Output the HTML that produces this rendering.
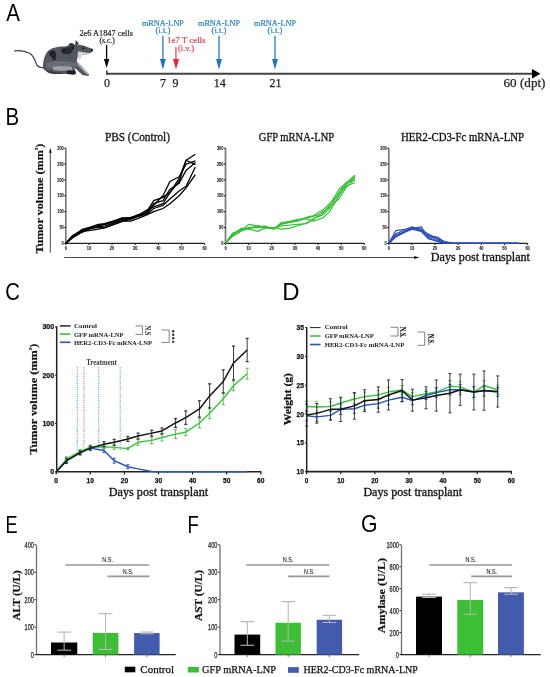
<!DOCTYPE html>
<html><head><meta charset="utf-8"><style>
html,body{margin:0;padding:0;background:#fff;}
svg{display:block;will-change:transform;}
</style></head><body>
<svg width="550" height="677" viewBox="0 0 550 677">
<rect width="550" height="677" fill="#fff"/>
<text x="0" y="0" font-family="'Liberation Sans', sans-serif" font-size="24.4" fill="#000" transform="translate(6.25,20.7) scale(0.84,1)">A</text>
<text x="0" y="0" font-family="'Liberation Sans', sans-serif" font-size="24.4" fill="#000" transform="translate(5.42,125.4) scale(0.84,1)">B</text>
<text x="0" y="0" font-family="'Liberation Sans', sans-serif" font-size="24.4" fill="#000" transform="translate(5.29,299.9) scale(0.83,1)">C</text>
<text x="0" y="0" font-family="'Liberation Sans', sans-serif" font-size="24.4" fill="#000" transform="translate(282.24,300.1) scale(0.98,1)">D</text>
<text x="0" y="0" font-family="'Liberation Sans', sans-serif" font-size="24.4" fill="#000" transform="translate(5.62,532.8) scale(0.74,1)">E</text>
<text x="0" y="0" font-family="'Liberation Sans', sans-serif" font-size="24.4" fill="#000" transform="translate(187.48,532.6) scale(0.76,1)">F</text>
<text x="0" y="0" font-family="'Liberation Sans', sans-serif" font-size="24.4" fill="#000" transform="translate(361.04,532.2) scale(0.87,1)">G</text>
<line x1="106.80" y1="70.60" x2="106.80" y2="74.60" stroke="#444" stroke-width="1.6" />
<line x1="106.00" y1="73.80" x2="533.00" y2="73.80" stroke="#444" stroke-width="1.9" />
<polygon points="532.00,69.00 540.50,73.70 532.00,78.50" fill="#000" />
<text x="107.10" y="87.00" font-family="'Liberation Serif', serif" font-size="12" font-weight="normal" fill="#222" text-anchor="middle" stroke="#222" stroke-width="0.25" >0</text>
<text x="163.00" y="87.00" font-family="'Liberation Serif', serif" font-size="12" font-weight="normal" fill="#222" text-anchor="middle" stroke="#222" stroke-width="0.25" >7</text>
<text x="175.60" y="87.00" font-family="'Liberation Serif', serif" font-size="12" font-weight="normal" fill="#222" text-anchor="middle" stroke="#222" stroke-width="0.25" >9</text>
<text x="219.80" y="87.00" font-family="'Liberation Serif', serif" font-size="12" font-weight="normal" fill="#222" text-anchor="middle" stroke="#222" stroke-width="0.25" >14</text>
<text x="275.40" y="87.00" font-family="'Liberation Serif', serif" font-size="12" font-weight="normal" fill="#222" text-anchor="middle" stroke="#222" stroke-width="0.25" >21</text>
<text x="503.50" y="87.00" font-family="'Liberation Serif', serif" font-size="12.2" font-weight="normal" fill="#222" text-anchor="start" textLength="42" lengthAdjust="spacingAndGlyphs" stroke="#222" stroke-width="0.25" >60 (dpt)</text>
<line x1="106.60" y1="45.00" x2="106.60" y2="60.00" stroke="#000" stroke-width="1.3" />
<polygon points="103.90,59.00 109.30,59.00 106.60,68.00" fill="#000" />
<text x="79.40" y="36.00" font-family="'Liberation Serif', serif" font-size="8.3" font-weight="normal" fill="#222" text-anchor="start" textLength="53.6" lengthAdjust="spacingAndGlyphs" stroke="#222" stroke-width="0.2" >2e6 A1847 cells</text>
<text x="107.20" y="42.60" font-family="'Liberation Serif', serif" font-size="8.3" font-weight="normal" fill="#222" text-anchor="middle" textLength="15.5" lengthAdjust="spacingAndGlyphs" stroke="#222" stroke-width="0.2" >(s.c.)</text>
<line x1="162.90" y1="35.80" x2="162.90" y2="60.00" stroke="#3a8fd4" stroke-width="1.5" />
<polygon points="160.00,59.00 165.80,59.00 162.90,69.40" fill="#1a74c4" />
<text x="162.90" y="25.50" font-family="'Liberation Serif', serif" font-size="8.3" font-weight="normal" fill="#2484cc" text-anchor="middle" textLength="42" lengthAdjust="spacingAndGlyphs" stroke="#2484cc" stroke-width="0.2" >mRNA-LNP</text>
<text x="162.90" y="33.30" font-family="'Liberation Serif', serif" font-size="8.3" font-weight="normal" fill="#2484cc" text-anchor="middle" textLength="15" lengthAdjust="spacingAndGlyphs" stroke="#2484cc" stroke-width="0.2" >(i.t.)</text>
<line x1="219.00" y1="35.80" x2="219.00" y2="60.00" stroke="#3a8fd4" stroke-width="1.5" />
<polygon points="216.10,59.00 221.90,59.00 219.00,69.40" fill="#1a74c4" />
<text x="219.00" y="25.50" font-family="'Liberation Serif', serif" font-size="8.3" font-weight="normal" fill="#2484cc" text-anchor="middle" textLength="42" lengthAdjust="spacingAndGlyphs" stroke="#2484cc" stroke-width="0.2" >mRNA-LNP</text>
<text x="219.00" y="33.30" font-family="'Liberation Serif', serif" font-size="8.3" font-weight="normal" fill="#2484cc" text-anchor="middle" textLength="15" lengthAdjust="spacingAndGlyphs" stroke="#2484cc" stroke-width="0.2" >(i.t.)</text>
<line x1="275.00" y1="35.80" x2="275.00" y2="60.00" stroke="#3a8fd4" stroke-width="1.5" />
<polygon points="272.10,59.00 277.90,59.00 275.00,69.40" fill="#1a74c4" />
<text x="275.00" y="25.50" font-family="'Liberation Serif', serif" font-size="8.3" font-weight="normal" fill="#2484cc" text-anchor="middle" textLength="42" lengthAdjust="spacingAndGlyphs" stroke="#2484cc" stroke-width="0.2" >mRNA-LNP</text>
<text x="275.00" y="33.30" font-family="'Liberation Serif', serif" font-size="8.3" font-weight="normal" fill="#2484cc" text-anchor="middle" textLength="15" lengthAdjust="spacingAndGlyphs" stroke="#2484cc" stroke-width="0.2" >(i.t.)</text>
<line x1="175.90" y1="47.30" x2="175.90" y2="60.00" stroke="#f06068" stroke-width="1.5" />
<polygon points="173.00,59.00 179.00,59.00 176.00,69.40" fill="#f5202e" />
<text x="167.00" y="42.70" font-family="'Liberation Serif', serif" font-size="8.3" font-weight="normal" fill="#f23a4a" text-anchor="start" textLength="38.5" lengthAdjust="spacingAndGlyphs" stroke="#f23a4a" stroke-width="0.2" >1e7 T cells</text>
<text x="186.00" y="50.60" font-family="'Liberation Serif', serif" font-size="8.3" font-weight="normal" fill="#f23a4a" text-anchor="middle" textLength="16" lengthAdjust="spacingAndGlyphs" stroke="#f23a4a" stroke-width="0.2" >(i.v.)</text>
<g id="mouse">
<path d="M14.6,50.9 C19,50.4 25,50.8 29.5,53.3 C33.5,55.6 35,59.8 36.3,63.8 C37.4,66.8 39.5,68 44,67.6" stroke="#3a3f45" stroke-width="1.15" fill="none" stroke-linecap="round"/>
<path d="M43.1,68.2 C42.8,62 44,56 47.5,51.5 C51,48 57,46.6 63,46.6 C66,46.6 68,45.5 69,44.7 L75.3,44.7 C79,44.2 83,45.3 86.7,46.8 C89.5,47.8 91.5,48.5 92.9,49.3 C93,50.5 92.5,51.6 91.7,52.1 C90.5,53.2 89.2,54 88,54.3 C86,54.7 85,54.6 83.6,54.5 C81,55.5 79,56 77.7,57 C77,59 76.5,61 77,62.5 L82,68 C85,71 87.5,73 88.9,74.4 C89.2,75.2 88.5,75.6 87.5,75.5 C85,75.5 83,75 81.8,74.3 C79,72 76.5,69.5 74.5,67.5 L75.6,72.5 C75.8,74 74.5,74.5 73,74.4 C71,74.3 69,74.3 67.5,74 C63,74 58,74.2 53.2,73.8 C50,73.2 47.5,72.3 46.1,71.3 C44.5,70.3 43.5,69.3 43.1,68.2 Z" fill="#50575f"/>
<path d="M46,63 C50,61 58,60.5 66,61.5 C71,62 75,62.5 77,62.5 L80,66 C75,67 68,67 60,67.5 C54,68 49,68 46.5,67 Z" fill="#656c74"/>
<path d="M49.5,52 C51.5,50.5 53.5,50.2 55,51 C56.2,53.5 56.2,57 55.3,60 C54.6,61.2 53.5,61 53,59.6 C52.4,57.5 51.2,56.5 50,56 C49,55 48.9,53.2 49.5,52 Z" fill="#1f2327"/>
<path d="M61,49.5 C63.5,47.6 66.5,47 69.5,47.3 C71.8,47.8 72.8,49.5 72.5,51.5 C71.5,53.3 69,54.2 66.5,54.3 C64,54.4 62,53.3 61.3,51.8 Z" fill="#24282d"/>
<path d="M53,66.8 C58,66.2 64,66.2 70.5,66.6 C72.5,67.5 73,69 72,70.3 C66,70.8 59,70.8 54,70.2 C52.5,69.3 52.3,67.8 53,66.8 Z" fill="#9ba1a7"/>
<path d="M46.2,70.3 C50,71.5 56,72.3 62.4,72.5 C62.5,73.4 62,74 61,74.1 C57,74.2 53,74 50,73.3 C48,72.8 46.8,71.8 46.2,70.3 Z" fill="#3a3f45"/>
<path d="M67.3,70.6 C70,70.2 73,70.4 75.3,71 C76,72 76,73.5 75.2,74.2 C72.5,74.7 69.5,74.6 67.6,74.1 C66.8,73 66.8,71.5 67.3,70.6 Z" fill="#1c1f23"/>
<path d="M77.2,61.2 C78.5,62.5 80.5,64.5 82.5,66.8 C85,69.8 87.5,72.5 89,74.5 L87.2,75 C85,72.8 82.5,70.2 80,67.6 C78.3,65.8 77,63.8 77.2,61.2 Z" fill="#a9aeb3"/>
<path d="M81.8,73.2 C84,73.6 86.8,74 89,74.4 C89.3,75.2 88.6,75.7 87.5,75.6 C85.2,75.6 83,75.2 81.6,74.6 Z" fill="#4a5056"/>
<path d="M78.5,51.2 C81.5,52 85.5,52.6 89.5,53 C90.5,53 91.2,52.8 91.7,52.3 C90.6,53.6 89.3,54.2 88,54.4 C86,54.8 84.5,54.7 83.4,54.6 C81.5,55.4 80.3,57 80.3,60 C79.2,59.5 78.3,58 77.7,57 C77.5,55 77.8,52.8 78.5,51.2 Z" fill="#d2d5d8"/>
<path d="M68.8,44.9 C69.2,43.6 70.3,43 71.5,43.1 C73,43.4 74.3,44.3 74.5,45.6 C74.3,47.5 73.6,49.3 72.5,50.2 C71,50 69.8,48.5 69.2,47 Z" fill="#33383d"/>
<path d="M71.8,46.4 C72.8,46.3 73.8,47 74,48.2 C73.7,49.2 73,49.6 72.2,49.5 C71.6,48.5 71.5,47.3 71.8,46.4 Z" fill="#15181b"/>
<path d="M75.1,44.9 L75.6,40.3 C76.6,40.6 77.8,42 78.9,43.9 C77.6,44.6 76.3,45 75.1,44.9 Z" fill="#3f454b"/>
<ellipse cx="83.1" cy="48.3" rx="1.15" ry="0.95" fill="#101214"/>
<path d="M91.2,48.5 C92.2,48.8 92.9,49.2 93,50.2 C92.8,51.2 92.2,51.7 91.5,51.7 C91,50.8 90.9,49.5 91.2,48.5 Z" fill="#1a1d20"/>
</g>
<line x1="65.80" y1="148.20" x2="65.80" y2="244.10" stroke="#7a7a7a" stroke-width="1.7" />
<line x1="65.10" y1="243.40" x2="204.60" y2="243.40" stroke="#222" stroke-width="1.4" />
<line x1="64.20" y1="243.40" x2="65.80" y2="243.40" stroke="#111" stroke-width="1" />
<text x="63.80" y="245.00" font-family="'Liberation Sans', sans-serif" font-size="4.8" font-weight="bold" fill="#222" text-anchor="end" textLength="2.2" lengthAdjust="spacingAndGlyphs" stroke="#222" stroke-width="0.1" >0</text>
<line x1="64.20" y1="227.53" x2="65.80" y2="227.53" stroke="#111" stroke-width="1" />
<text x="63.80" y="229.13" font-family="'Liberation Sans', sans-serif" font-size="4.8" font-weight="bold" fill="#222" text-anchor="end" textLength="4.4" lengthAdjust="spacingAndGlyphs" stroke="#222" stroke-width="0.1" >50</text>
<line x1="64.20" y1="211.67" x2="65.80" y2="211.67" stroke="#111" stroke-width="1" />
<text x="63.80" y="213.27" font-family="'Liberation Sans', sans-serif" font-size="4.8" font-weight="bold" fill="#222" text-anchor="end" textLength="6.6000000000000005" lengthAdjust="spacingAndGlyphs" stroke="#222" stroke-width="0.1" >100</text>
<line x1="64.20" y1="195.80" x2="65.80" y2="195.80" stroke="#111" stroke-width="1" />
<text x="63.80" y="197.40" font-family="'Liberation Sans', sans-serif" font-size="4.8" font-weight="bold" fill="#222" text-anchor="end" textLength="6.6000000000000005" lengthAdjust="spacingAndGlyphs" stroke="#222" stroke-width="0.1" >150</text>
<line x1="64.20" y1="179.93" x2="65.80" y2="179.93" stroke="#111" stroke-width="1" />
<text x="63.80" y="181.53" font-family="'Liberation Sans', sans-serif" font-size="4.8" font-weight="bold" fill="#222" text-anchor="end" textLength="6.6000000000000005" lengthAdjust="spacingAndGlyphs" stroke="#222" stroke-width="0.1" >200</text>
<line x1="64.20" y1="164.07" x2="65.80" y2="164.07" stroke="#111" stroke-width="1" />
<text x="63.80" y="165.67" font-family="'Liberation Sans', sans-serif" font-size="4.8" font-weight="bold" fill="#222" text-anchor="end" textLength="6.6000000000000005" lengthAdjust="spacingAndGlyphs" stroke="#222" stroke-width="0.1" >250</text>
<line x1="64.20" y1="148.20" x2="65.80" y2="148.20" stroke="#111" stroke-width="1" />
<text x="63.80" y="149.80" font-family="'Liberation Sans', sans-serif" font-size="4.8" font-weight="bold" fill="#222" text-anchor="end" textLength="6.6000000000000005" lengthAdjust="spacingAndGlyphs" stroke="#222" stroke-width="0.1" >300</text>
<line x1="65.80" y1="243.40" x2="65.80" y2="245.00" stroke="#111" stroke-width="1" />
<text x="65.80" y="250.20" font-family="'Liberation Sans', sans-serif" font-size="4.8" font-weight="bold" fill="#222" text-anchor="middle" textLength="2.2" lengthAdjust="spacingAndGlyphs" stroke="#222" stroke-width="0.1" >0</text>
<line x1="88.93" y1="243.40" x2="88.93" y2="245.00" stroke="#111" stroke-width="1" />
<text x="88.93" y="250.20" font-family="'Liberation Sans', sans-serif" font-size="4.8" font-weight="bold" fill="#222" text-anchor="middle" textLength="4.4" lengthAdjust="spacingAndGlyphs" stroke="#222" stroke-width="0.1" >10</text>
<line x1="112.07" y1="243.40" x2="112.07" y2="245.00" stroke="#111" stroke-width="1" />
<text x="112.07" y="250.20" font-family="'Liberation Sans', sans-serif" font-size="4.8" font-weight="bold" fill="#222" text-anchor="middle" textLength="4.4" lengthAdjust="spacingAndGlyphs" stroke="#222" stroke-width="0.1" >20</text>
<line x1="135.20" y1="243.40" x2="135.20" y2="245.00" stroke="#111" stroke-width="1" />
<text x="135.20" y="250.20" font-family="'Liberation Sans', sans-serif" font-size="4.8" font-weight="bold" fill="#222" text-anchor="middle" textLength="4.4" lengthAdjust="spacingAndGlyphs" stroke="#222" stroke-width="0.1" >30</text>
<line x1="158.33" y1="243.40" x2="158.33" y2="245.00" stroke="#111" stroke-width="1" />
<text x="158.33" y="250.20" font-family="'Liberation Sans', sans-serif" font-size="4.8" font-weight="bold" fill="#222" text-anchor="middle" textLength="4.4" lengthAdjust="spacingAndGlyphs" stroke="#222" stroke-width="0.1" >40</text>
<line x1="181.47" y1="243.40" x2="181.47" y2="245.00" stroke="#111" stroke-width="1" />
<text x="181.47" y="250.20" font-family="'Liberation Sans', sans-serif" font-size="4.8" font-weight="bold" fill="#222" text-anchor="middle" textLength="4.4" lengthAdjust="spacingAndGlyphs" stroke="#222" stroke-width="0.1" >50</text>
<line x1="204.60" y1="243.40" x2="204.60" y2="245.00" stroke="#111" stroke-width="1" />
<text x="204.60" y="250.20" font-family="'Liberation Sans', sans-serif" font-size="4.8" font-weight="bold" fill="#222" text-anchor="middle" textLength="4.4" lengthAdjust="spacingAndGlyphs" stroke="#222" stroke-width="0.1" >60</text>
<text x="104.90" y="140.60" font-family="'Liberation Serif', serif" font-size="11.8" font-weight="normal" fill="#111" text-anchor="start" textLength="65.1" lengthAdjust="spacingAndGlyphs" stroke="#111" stroke-width="0.3" >PBS (Control)</text>
<polyline points="65.80,243.40 72.74,235.47 81.99,230.07 88.93,227.53 98.19,224.36 105.13,223.73 114.38,221.19 121.32,218.01 130.57,218.01 137.51,216.11 146.77,211.67 153.71,200.56 162.96,197.39 169.90,192.63 179.15,178.35 186.09,160.26 195.35,154.23" stroke="#000" stroke-width="1.3" fill="none" stroke-linejoin="round" />
<polyline points="65.80,243.40 72.74,237.05 81.99,231.34 88.93,230.71 98.19,229.12 105.13,227.53 114.38,223.73 121.32,220.55 130.57,218.65 137.51,214.84 146.77,212.94 153.71,205.32 162.96,195.80 169.90,181.52 179.15,176.76 186.09,164.07 195.35,160.89" stroke="#000" stroke-width="1.3" fill="none" stroke-linejoin="round" />
<polyline points="65.80,243.40 72.74,237.69 81.99,232.29 88.93,229.12 98.19,226.90 105.13,225.95 114.38,222.77 121.32,221.19 130.57,221.19 137.51,218.65 146.77,214.84 153.71,211.67 162.96,208.49 169.90,203.73 179.15,195.80 186.09,187.87 195.35,174.54" stroke="#000" stroke-width="1.3" fill="none" stroke-linejoin="round" />
<polyline points="65.80,243.40 72.74,235.78 81.99,230.71 88.93,228.17 98.19,225.95 105.13,223.73 114.38,220.55 121.32,218.65 130.57,217.38 137.51,215.47 146.77,210.08 153.71,206.91 162.96,203.73 169.90,192.63 179.15,181.52 186.09,160.26 195.35,164.70" stroke="#000" stroke-width="1.3" fill="none" stroke-linejoin="round" />
<polyline points="65.80,243.40 72.74,236.42 81.99,229.44 88.93,227.53 98.19,227.53 105.13,227.53 114.38,224.36 121.32,221.82 130.57,219.28 137.51,216.74 146.77,214.21 153.71,208.49 162.96,205.32 169.90,198.97 179.15,191.04 186.09,186.28 195.35,166.92" stroke="#000" stroke-width="1.3" fill="none" stroke-linejoin="round" />
<polyline points="65.80,243.40 72.74,237.05 81.99,230.71 88.93,228.80 98.19,225.95 105.13,224.36 114.38,221.82 121.32,219.60 130.57,218.01 137.51,216.43 146.77,213.25 153.71,203.73 162.96,200.56 169.90,189.45 179.15,183.11 186.09,170.41 195.35,162.48" stroke="#000" stroke-width="1.3" fill="none" stroke-linejoin="round" />
<line x1="225.50" y1="148.20" x2="225.50" y2="244.10" stroke="#7a7a7a" stroke-width="1.7" />
<line x1="224.80" y1="243.40" x2="364.30" y2="243.40" stroke="#222" stroke-width="1.4" />
<line x1="223.90" y1="243.40" x2="225.50" y2="243.40" stroke="#111" stroke-width="1" />
<text x="223.50" y="245.00" font-family="'Liberation Sans', sans-serif" font-size="4.8" font-weight="bold" fill="#222" text-anchor="end" textLength="2.2" lengthAdjust="spacingAndGlyphs" stroke="#222" stroke-width="0.1" >0</text>
<line x1="223.90" y1="227.53" x2="225.50" y2="227.53" stroke="#111" stroke-width="1" />
<text x="223.50" y="229.13" font-family="'Liberation Sans', sans-serif" font-size="4.8" font-weight="bold" fill="#222" text-anchor="end" textLength="4.4" lengthAdjust="spacingAndGlyphs" stroke="#222" stroke-width="0.1" >50</text>
<line x1="223.90" y1="211.67" x2="225.50" y2="211.67" stroke="#111" stroke-width="1" />
<text x="223.50" y="213.27" font-family="'Liberation Sans', sans-serif" font-size="4.8" font-weight="bold" fill="#222" text-anchor="end" textLength="6.6000000000000005" lengthAdjust="spacingAndGlyphs" stroke="#222" stroke-width="0.1" >100</text>
<line x1="223.90" y1="195.80" x2="225.50" y2="195.80" stroke="#111" stroke-width="1" />
<text x="223.50" y="197.40" font-family="'Liberation Sans', sans-serif" font-size="4.8" font-weight="bold" fill="#222" text-anchor="end" textLength="6.6000000000000005" lengthAdjust="spacingAndGlyphs" stroke="#222" stroke-width="0.1" >150</text>
<line x1="223.90" y1="179.93" x2="225.50" y2="179.93" stroke="#111" stroke-width="1" />
<text x="223.50" y="181.53" font-family="'Liberation Sans', sans-serif" font-size="4.8" font-weight="bold" fill="#222" text-anchor="end" textLength="6.6000000000000005" lengthAdjust="spacingAndGlyphs" stroke="#222" stroke-width="0.1" >200</text>
<line x1="223.90" y1="164.07" x2="225.50" y2="164.07" stroke="#111" stroke-width="1" />
<text x="223.50" y="165.67" font-family="'Liberation Sans', sans-serif" font-size="4.8" font-weight="bold" fill="#222" text-anchor="end" textLength="6.6000000000000005" lengthAdjust="spacingAndGlyphs" stroke="#222" stroke-width="0.1" >250</text>
<line x1="223.90" y1="148.20" x2="225.50" y2="148.20" stroke="#111" stroke-width="1" />
<text x="223.50" y="149.80" font-family="'Liberation Sans', sans-serif" font-size="4.8" font-weight="bold" fill="#222" text-anchor="end" textLength="6.6000000000000005" lengthAdjust="spacingAndGlyphs" stroke="#222" stroke-width="0.1" >300</text>
<line x1="225.50" y1="243.40" x2="225.50" y2="245.00" stroke="#111" stroke-width="1" />
<text x="225.50" y="250.20" font-family="'Liberation Sans', sans-serif" font-size="4.8" font-weight="bold" fill="#222" text-anchor="middle" textLength="2.2" lengthAdjust="spacingAndGlyphs" stroke="#222" stroke-width="0.1" >0</text>
<line x1="248.63" y1="243.40" x2="248.63" y2="245.00" stroke="#111" stroke-width="1" />
<text x="248.63" y="250.20" font-family="'Liberation Sans', sans-serif" font-size="4.8" font-weight="bold" fill="#222" text-anchor="middle" textLength="4.4" lengthAdjust="spacingAndGlyphs" stroke="#222" stroke-width="0.1" >10</text>
<line x1="271.77" y1="243.40" x2="271.77" y2="245.00" stroke="#111" stroke-width="1" />
<text x="271.77" y="250.20" font-family="'Liberation Sans', sans-serif" font-size="4.8" font-weight="bold" fill="#222" text-anchor="middle" textLength="4.4" lengthAdjust="spacingAndGlyphs" stroke="#222" stroke-width="0.1" >20</text>
<line x1="294.90" y1="243.40" x2="294.90" y2="245.00" stroke="#111" stroke-width="1" />
<text x="294.90" y="250.20" font-family="'Liberation Sans', sans-serif" font-size="4.8" font-weight="bold" fill="#222" text-anchor="middle" textLength="4.4" lengthAdjust="spacingAndGlyphs" stroke="#222" stroke-width="0.1" >30</text>
<line x1="318.03" y1="243.40" x2="318.03" y2="245.00" stroke="#111" stroke-width="1" />
<text x="318.03" y="250.20" font-family="'Liberation Sans', sans-serif" font-size="4.8" font-weight="bold" fill="#222" text-anchor="middle" textLength="4.4" lengthAdjust="spacingAndGlyphs" stroke="#222" stroke-width="0.1" >40</text>
<line x1="341.17" y1="243.40" x2="341.17" y2="245.00" stroke="#111" stroke-width="1" />
<text x="341.17" y="250.20" font-family="'Liberation Sans', sans-serif" font-size="4.8" font-weight="bold" fill="#222" text-anchor="middle" textLength="4.4" lengthAdjust="spacingAndGlyphs" stroke="#222" stroke-width="0.1" >50</text>
<line x1="364.30" y1="243.40" x2="364.30" y2="245.00" stroke="#111" stroke-width="1" />
<text x="364.30" y="250.20" font-family="'Liberation Sans', sans-serif" font-size="4.8" font-weight="bold" fill="#222" text-anchor="middle" textLength="4.4" lengthAdjust="spacingAndGlyphs" stroke="#222" stroke-width="0.1" >60</text>
<text x="258.80" y="140.60" font-family="'Liberation Serif', serif" font-size="11.8" font-weight="normal" fill="#111" text-anchor="start" textLength="75.4" lengthAdjust="spacingAndGlyphs" stroke="#111" stroke-width="0.3" >GFP mRNA-LNP</text>
<polyline points="225.50,243.40 232.44,233.88 241.69,229.12 248.63,228.17 257.89,225.95 264.83,226.90 274.08,229.12 281.02,222.77 290.27,221.19 297.21,219.60 306.47,218.01 313.41,216.43 322.66,213.25 329.60,205.32 338.85,189.45 345.79,183.11 355.05,175.17" stroke="#33c033" stroke-width="1.2" fill="none" stroke-linejoin="round" />
<polyline points="225.50,243.40 232.44,235.47 241.69,230.71 248.63,224.36 257.89,225.95 264.83,227.53 274.08,228.17 281.02,224.36 290.27,221.82 297.21,220.55 306.47,218.65 313.41,221.19 322.66,218.01 329.60,211.67 338.85,195.80 345.79,184.69 355.05,176.76" stroke="#33c033" stroke-width="1.2" fill="none" stroke-linejoin="round" />
<polyline points="225.50,243.40 232.44,234.51 241.69,228.17 248.63,229.12 257.89,231.34 264.83,228.17 274.08,227.53 281.02,229.12 290.27,228.17 297.21,225.95 306.47,222.77 313.41,219.60 322.66,211.67 329.60,206.91 338.85,198.97 345.79,187.87 355.05,178.35" stroke="#33c033" stroke-width="1.2" fill="none" stroke-linejoin="round" />
<polyline points="225.50,243.40 232.44,233.25 241.69,230.07 248.63,227.53 257.89,227.53 264.83,225.95 274.08,228.80 281.02,223.73 290.27,222.46 297.21,221.19 306.47,217.38 313.41,215.47 322.66,210.08 329.60,203.73 338.85,194.21 345.79,186.28 355.05,182.47" stroke="#33c033" stroke-width="1.2" fill="none" stroke-linejoin="round" />
<polyline points="225.50,243.40 232.44,236.42 241.69,230.71 248.63,228.49 257.89,226.90 264.83,227.53 274.08,228.49 281.02,225.95 290.27,224.99 297.21,224.36 306.47,223.73 313.41,218.65 322.66,214.84 329.60,208.49 338.85,192.63 345.79,183.11 355.05,179.93" stroke="#33c033" stroke-width="1.2" fill="none" stroke-linejoin="round" />
<line x1="388.80" y1="148.20" x2="388.80" y2="244.10" stroke="#7a7a7a" stroke-width="1.7" />
<line x1="388.10" y1="243.40" x2="527.60" y2="243.40" stroke="#222" stroke-width="1.4" />
<line x1="387.20" y1="243.40" x2="388.80" y2="243.40" stroke="#111" stroke-width="1" />
<text x="386.80" y="245.00" font-family="'Liberation Sans', sans-serif" font-size="4.8" font-weight="bold" fill="#222" text-anchor="end" textLength="2.2" lengthAdjust="spacingAndGlyphs" stroke="#222" stroke-width="0.1" >0</text>
<line x1="387.20" y1="227.53" x2="388.80" y2="227.53" stroke="#111" stroke-width="1" />
<text x="386.80" y="229.13" font-family="'Liberation Sans', sans-serif" font-size="4.8" font-weight="bold" fill="#222" text-anchor="end" textLength="4.4" lengthAdjust="spacingAndGlyphs" stroke="#222" stroke-width="0.1" >50</text>
<line x1="387.20" y1="211.67" x2="388.80" y2="211.67" stroke="#111" stroke-width="1" />
<text x="386.80" y="213.27" font-family="'Liberation Sans', sans-serif" font-size="4.8" font-weight="bold" fill="#222" text-anchor="end" textLength="6.6000000000000005" lengthAdjust="spacingAndGlyphs" stroke="#222" stroke-width="0.1" >100</text>
<line x1="387.20" y1="195.80" x2="388.80" y2="195.80" stroke="#111" stroke-width="1" />
<text x="386.80" y="197.40" font-family="'Liberation Sans', sans-serif" font-size="4.8" font-weight="bold" fill="#222" text-anchor="end" textLength="6.6000000000000005" lengthAdjust="spacingAndGlyphs" stroke="#222" stroke-width="0.1" >150</text>
<line x1="387.20" y1="179.93" x2="388.80" y2="179.93" stroke="#111" stroke-width="1" />
<text x="386.80" y="181.53" font-family="'Liberation Sans', sans-serif" font-size="4.8" font-weight="bold" fill="#222" text-anchor="end" textLength="6.6000000000000005" lengthAdjust="spacingAndGlyphs" stroke="#222" stroke-width="0.1" >200</text>
<line x1="387.20" y1="164.07" x2="388.80" y2="164.07" stroke="#111" stroke-width="1" />
<text x="386.80" y="165.67" font-family="'Liberation Sans', sans-serif" font-size="4.8" font-weight="bold" fill="#222" text-anchor="end" textLength="6.6000000000000005" lengthAdjust="spacingAndGlyphs" stroke="#222" stroke-width="0.1" >250</text>
<line x1="387.20" y1="148.20" x2="388.80" y2="148.20" stroke="#111" stroke-width="1" />
<text x="386.80" y="149.80" font-family="'Liberation Sans', sans-serif" font-size="4.8" font-weight="bold" fill="#222" text-anchor="end" textLength="6.6000000000000005" lengthAdjust="spacingAndGlyphs" stroke="#222" stroke-width="0.1" >300</text>
<line x1="388.80" y1="243.40" x2="388.80" y2="245.00" stroke="#111" stroke-width="1" />
<text x="388.80" y="250.20" font-family="'Liberation Sans', sans-serif" font-size="4.8" font-weight="bold" fill="#222" text-anchor="middle" textLength="2.2" lengthAdjust="spacingAndGlyphs" stroke="#222" stroke-width="0.1" >0</text>
<line x1="411.93" y1="243.40" x2="411.93" y2="245.00" stroke="#111" stroke-width="1" />
<text x="411.93" y="250.20" font-family="'Liberation Sans', sans-serif" font-size="4.8" font-weight="bold" fill="#222" text-anchor="middle" textLength="4.4" lengthAdjust="spacingAndGlyphs" stroke="#222" stroke-width="0.1" >10</text>
<line x1="435.07" y1="243.40" x2="435.07" y2="245.00" stroke="#111" stroke-width="1" />
<text x="435.07" y="250.20" font-family="'Liberation Sans', sans-serif" font-size="4.8" font-weight="bold" fill="#222" text-anchor="middle" textLength="4.4" lengthAdjust="spacingAndGlyphs" stroke="#222" stroke-width="0.1" >20</text>
<line x1="458.20" y1="243.40" x2="458.20" y2="245.00" stroke="#111" stroke-width="1" />
<text x="458.20" y="250.20" font-family="'Liberation Sans', sans-serif" font-size="4.8" font-weight="bold" fill="#222" text-anchor="middle" textLength="4.4" lengthAdjust="spacingAndGlyphs" stroke="#222" stroke-width="0.1" >30</text>
<line x1="481.33" y1="243.40" x2="481.33" y2="245.00" stroke="#111" stroke-width="1" />
<text x="481.33" y="250.20" font-family="'Liberation Sans', sans-serif" font-size="4.8" font-weight="bold" fill="#222" text-anchor="middle" textLength="4.4" lengthAdjust="spacingAndGlyphs" stroke="#222" stroke-width="0.1" >40</text>
<line x1="504.47" y1="243.40" x2="504.47" y2="245.00" stroke="#111" stroke-width="1" />
<text x="504.47" y="250.20" font-family="'Liberation Sans', sans-serif" font-size="4.8" font-weight="bold" fill="#222" text-anchor="middle" textLength="4.4" lengthAdjust="spacingAndGlyphs" stroke="#222" stroke-width="0.1" >50</text>
<line x1="527.60" y1="243.40" x2="527.60" y2="245.00" stroke="#111" stroke-width="1" />
<text x="527.60" y="250.20" font-family="'Liberation Sans', sans-serif" font-size="4.8" font-weight="bold" fill="#222" text-anchor="middle" textLength="4.4" lengthAdjust="spacingAndGlyphs" stroke="#222" stroke-width="0.1" >60</text>
<text x="401.00" y="140.60" font-family="'Liberation Serif', serif" font-size="11.8" font-weight="normal" fill="#111" text-anchor="start" textLength="123" lengthAdjust="spacingAndGlyphs" stroke="#111" stroke-width="0.3" >HER2-CD3-Fc mRNA-LNP</text>
<polyline points="388.80,243.40 395.74,230.71 404.99,229.44 411.93,227.53 421.19,230.71 428.13,235.47 437.38,237.05 444.32,241.81 453.57,243.40 460.51,243.40 469.77,243.40 476.71,243.40 485.96,243.40 492.90,243.40 502.15,243.40 509.09,243.40 518.35,243.40" stroke="#2c4db8" stroke-width="1.2" fill="none" stroke-linejoin="round" />
<polyline points="388.80,243.40 395.74,235.47 404.99,231.34 411.93,228.17 421.19,229.12 428.13,233.88 437.38,239.59 444.32,242.77 453.57,243.40 460.51,243.40 469.77,243.40 476.71,243.40 485.96,243.40 492.90,243.40 502.15,243.40 509.09,243.40 518.35,243.40" stroke="#2c4db8" stroke-width="1.2" fill="none" stroke-linejoin="round" />
<polyline points="388.80,243.40 395.74,236.42 404.99,232.29 411.93,228.80 421.19,226.90 428.13,237.69 437.38,240.86 444.32,243.08 453.57,243.40 460.51,243.40 469.77,243.40 476.71,243.40 485.96,243.40 492.90,243.40 502.15,243.40 509.09,243.40 518.35,243.40" stroke="#2c4db8" stroke-width="1.2" fill="none" stroke-linejoin="round" />
<polyline points="388.80,243.40 395.74,233.88 404.99,230.07 411.93,226.90 421.19,230.07 428.13,236.42 437.38,238.64 444.32,241.50 453.57,243.40 460.51,243.40 469.77,243.40 476.71,243.40 485.96,243.40 492.90,243.40 502.15,243.40 509.09,243.40 518.35,243.40" stroke="#2c4db8" stroke-width="1.2" fill="none" stroke-linejoin="round" />
<polyline points="388.80,243.40 395.74,237.05 404.99,231.98 411.93,229.12 421.19,231.34 428.13,238.64 437.38,241.50 444.32,243.40 453.57,243.40 460.51,243.40 469.77,243.40 476.71,243.40 485.96,243.40 492.90,243.40 502.15,243.40 509.09,243.40 518.35,243.40" stroke="#2c4db8" stroke-width="1.2" fill="none" stroke-linejoin="round" />
<text x="0.00" y="0.00" font-family="'Liberation Serif', serif" font-size="11.3" font-weight="bold" fill="#111" text-anchor="start" textLength="110" lengthAdjust="spacingAndGlyphs" stroke="#111" stroke-width="0.2" transform="translate(42.6,253.6) rotate(-90)">Tumor volume (mm<tspan font-size="4.6" dy="-4.9">3</tspan><tspan dy="4.9">)</tspan></text>
<line x1="50.30" y1="252.70" x2="50.30" y2="151.00" stroke="#333" stroke-width="0.9" />
<polygon points="48.90,152.80 51.70,152.80 50.30,147.90" fill="#111" />
<line x1="64.20" y1="257.50" x2="415.00" y2="257.50" stroke="#333" stroke-width="0.9" />
<polygon points="414.20,255.90 414.20,259.10 419.30,257.50" fill="#111" />
<text x="430.80" y="261.40" font-family="'Liberation Serif', serif" font-size="11.8" font-weight="normal" fill="#111" text-anchor="start" textLength="99.2" lengthAdjust="spacingAndGlyphs" stroke="#111" stroke-width="0.3" >Days post transplant</text>
<line x1="56.70" y1="326.30" x2="56.70" y2="472.60" stroke="#222" stroke-width="1.5" />
<line x1="55.90" y1="471.80" x2="261.40" y2="471.80" stroke="#222" stroke-width="1.6" />
<line x1="77.30" y1="367.30" x2="77.30" y2="451.00" stroke="#4aa0e0" stroke-width="1.1" stroke-dasharray="1 1.2"/>
<line x1="83.90" y1="367.30" x2="83.90" y2="451.00" stroke="#f06060" stroke-width="1.1" stroke-dasharray="1 1.2"/>
<line x1="98.70" y1="367.30" x2="98.70" y2="451.00" stroke="#4aa0e0" stroke-width="1.1" stroke-dasharray="1 1.2"/>
<line x1="120.20" y1="367.30" x2="120.20" y2="451.00" stroke="#4aa0e0" stroke-width="1.1" stroke-dasharray="1 1.2"/>
<text x="86.30" y="365.20" font-family="'Liberation Serif', serif" font-size="7.6" font-weight="bold" fill="#3a3a3a" text-anchor="start" textLength="30.5" lengthAdjust="spacingAndGlyphs" >Treatment</text>
<line x1="66.43" y1="458.27" x2="66.43" y2="462.13" stroke="#4a6cc8" stroke-width="1.0" />
<line x1="64.93" y1="458.27" x2="67.93" y2="458.27" stroke="#4a6cc8" stroke-width="1.3" />
<line x1="64.93" y1="462.13" x2="67.93" y2="462.13" stroke="#4a6cc8" stroke-width="1.3" />
<line x1="80.07" y1="450.53" x2="80.07" y2="454.40" stroke="#4a6cc8" stroke-width="1.0" />
<line x1="78.57" y1="450.53" x2="81.57" y2="450.53" stroke="#4a6cc8" stroke-width="1.3" />
<line x1="78.57" y1="454.40" x2="81.57" y2="454.40" stroke="#4a6cc8" stroke-width="1.3" />
<line x1="90.30" y1="446.19" x2="90.30" y2="450.05" stroke="#4a6cc8" stroke-width="1.0" />
<line x1="88.80" y1="446.19" x2="91.80" y2="446.19" stroke="#4a6cc8" stroke-width="1.3" />
<line x1="88.80" y1="450.05" x2="91.80" y2="450.05" stroke="#4a6cc8" stroke-width="1.3" />
<line x1="103.94" y1="448.60" x2="103.94" y2="452.47" stroke="#4a6cc8" stroke-width="1.0" />
<line x1="102.44" y1="448.60" x2="105.44" y2="448.60" stroke="#4a6cc8" stroke-width="1.3" />
<line x1="102.44" y1="452.47" x2="105.44" y2="452.47" stroke="#4a6cc8" stroke-width="1.3" />
<line x1="114.17" y1="458.27" x2="114.17" y2="463.10" stroke="#4a6cc8" stroke-width="1.0" />
<line x1="112.67" y1="458.27" x2="115.67" y2="458.27" stroke="#4a6cc8" stroke-width="1.3" />
<line x1="112.67" y1="463.10" x2="115.67" y2="463.10" stroke="#4a6cc8" stroke-width="1.3" />
<line x1="127.81" y1="464.79" x2="127.81" y2="468.66" stroke="#4a6cc8" stroke-width="1.0" />
<line x1="126.31" y1="464.79" x2="129.31" y2="464.79" stroke="#4a6cc8" stroke-width="1.3" />
<line x1="126.31" y1="468.66" x2="129.31" y2="468.66" stroke="#4a6cc8" stroke-width="1.3" />
<polyline points="56.20,471.80 66.43,460.20 80.07,452.47 90.30,448.12 103.94,450.53 114.17,460.68 127.81,466.73 138.04,468.90 151.68,471.56 161.91,471.80 175.55,471.80 185.78,471.80 199.42,471.80 209.65,471.80 223.29,471.80 233.52,471.80 247.16,471.80" stroke="#2d53b8" stroke-width="1.45" fill="none" stroke-linejoin="round" />
<line x1="66.43" y1="456.82" x2="66.43" y2="461.65" stroke="#62c862" stroke-width="1.0" />
<line x1="64.93" y1="456.82" x2="67.93" y2="456.82" stroke="#62c862" stroke-width="1.3" />
<line x1="64.93" y1="461.65" x2="67.93" y2="461.65" stroke="#62c862" stroke-width="1.3" />
<line x1="80.07" y1="449.57" x2="80.07" y2="453.43" stroke="#62c862" stroke-width="1.0" />
<line x1="78.57" y1="449.57" x2="81.57" y2="449.57" stroke="#62c862" stroke-width="1.3" />
<line x1="78.57" y1="453.43" x2="81.57" y2="453.43" stroke="#62c862" stroke-width="1.3" />
<line x1="90.30" y1="445.22" x2="90.30" y2="449.08" stroke="#62c862" stroke-width="1.0" />
<line x1="88.80" y1="445.22" x2="91.80" y2="445.22" stroke="#62c862" stroke-width="1.3" />
<line x1="88.80" y1="449.08" x2="91.80" y2="449.08" stroke="#62c862" stroke-width="1.3" />
<line x1="103.94" y1="444.74" x2="103.94" y2="448.60" stroke="#62c862" stroke-width="1.0" />
<line x1="102.44" y1="444.74" x2="105.44" y2="444.74" stroke="#62c862" stroke-width="1.3" />
<line x1="102.44" y1="448.60" x2="105.44" y2="448.60" stroke="#62c862" stroke-width="1.3" />
<line x1="114.17" y1="445.46" x2="114.17" y2="449.33" stroke="#62c862" stroke-width="1.0" />
<line x1="112.67" y1="445.46" x2="115.67" y2="445.46" stroke="#62c862" stroke-width="1.3" />
<line x1="112.67" y1="449.33" x2="115.67" y2="449.33" stroke="#62c862" stroke-width="1.3" />
<line x1="127.81" y1="447.63" x2="127.81" y2="449.57" stroke="#62c862" stroke-width="1.0" />
<line x1="126.31" y1="447.63" x2="129.31" y2="447.63" stroke="#62c862" stroke-width="1.3" />
<line x1="126.31" y1="449.57" x2="129.31" y2="449.57" stroke="#62c862" stroke-width="1.3" />
<line x1="138.04" y1="439.42" x2="138.04" y2="445.22" stroke="#62c862" stroke-width="1.0" />
<line x1="136.54" y1="439.42" x2="139.54" y2="439.42" stroke="#62c862" stroke-width="1.3" />
<line x1="136.54" y1="445.22" x2="139.54" y2="445.22" stroke="#62c862" stroke-width="1.3" />
<line x1="151.68" y1="437.00" x2="151.68" y2="443.77" stroke="#62c862" stroke-width="1.0" />
<line x1="150.18" y1="437.00" x2="153.18" y2="437.00" stroke="#62c862" stroke-width="1.3" />
<line x1="150.18" y1="443.77" x2="153.18" y2="443.77" stroke="#62c862" stroke-width="1.3" />
<line x1="161.91" y1="434.10" x2="161.91" y2="440.87" stroke="#62c862" stroke-width="1.0" />
<line x1="160.41" y1="434.10" x2="163.41" y2="434.10" stroke="#62c862" stroke-width="1.3" />
<line x1="160.41" y1="440.87" x2="163.41" y2="440.87" stroke="#62c862" stroke-width="1.3" />
<line x1="175.55" y1="429.75" x2="175.55" y2="438.45" stroke="#62c862" stroke-width="1.0" />
<line x1="174.05" y1="429.75" x2="177.05" y2="429.75" stroke="#62c862" stroke-width="1.3" />
<line x1="174.05" y1="438.45" x2="177.05" y2="438.45" stroke="#62c862" stroke-width="1.3" />
<line x1="185.78" y1="428.79" x2="185.78" y2="435.55" stroke="#62c862" stroke-width="1.0" />
<line x1="184.28" y1="428.79" x2="187.28" y2="428.79" stroke="#62c862" stroke-width="1.3" />
<line x1="184.28" y1="435.55" x2="187.28" y2="435.55" stroke="#62c862" stroke-width="1.3" />
<line x1="199.42" y1="418.15" x2="199.42" y2="427.82" stroke="#62c862" stroke-width="1.0" />
<line x1="197.92" y1="418.15" x2="200.92" y2="418.15" stroke="#62c862" stroke-width="1.3" />
<line x1="197.92" y1="427.82" x2="200.92" y2="427.82" stroke="#62c862" stroke-width="1.3" />
<line x1="209.65" y1="408.00" x2="209.65" y2="418.64" stroke="#62c862" stroke-width="1.0" />
<line x1="208.15" y1="408.00" x2="211.15" y2="408.00" stroke="#62c862" stroke-width="1.3" />
<line x1="208.15" y1="418.64" x2="211.15" y2="418.64" stroke="#62c862" stroke-width="1.3" />
<line x1="223.29" y1="393.02" x2="223.29" y2="404.62" stroke="#62c862" stroke-width="1.0" />
<line x1="221.79" y1="393.02" x2="224.79" y2="393.02" stroke="#62c862" stroke-width="1.3" />
<line x1="221.79" y1="404.62" x2="224.79" y2="404.62" stroke="#62c862" stroke-width="1.3" />
<line x1="233.52" y1="380.94" x2="233.52" y2="390.61" stroke="#62c862" stroke-width="1.0" />
<line x1="232.02" y1="380.94" x2="235.02" y2="380.94" stroke="#62c862" stroke-width="1.3" />
<line x1="232.02" y1="390.61" x2="235.02" y2="390.61" stroke="#62c862" stroke-width="1.3" />
<line x1="247.16" y1="368.37" x2="247.16" y2="379.01" stroke="#62c862" stroke-width="1.0" />
<line x1="245.66" y1="368.37" x2="248.66" y2="368.37" stroke="#62c862" stroke-width="1.3" />
<line x1="245.66" y1="379.01" x2="248.66" y2="379.01" stroke="#62c862" stroke-width="1.3" />
<polyline points="56.20,471.80 66.43,459.23 80.07,451.50 90.30,447.15 103.94,446.67 114.17,447.39 127.81,448.60 138.04,442.32 151.68,440.39 161.91,437.49 175.55,434.10 185.78,432.17 199.42,422.99 209.65,413.32 223.29,398.82 233.52,385.77 247.16,373.69" stroke="#3cc43c" stroke-width="1.45" fill="none" stroke-linejoin="round" />
<line x1="66.43" y1="458.51" x2="66.43" y2="463.34" stroke="#3a3a3a" stroke-width="1.0" />
<line x1="64.93" y1="458.51" x2="67.93" y2="458.51" stroke="#3a3a3a" stroke-width="1.3" />
<line x1="64.93" y1="463.34" x2="67.93" y2="463.34" stroke="#3a3a3a" stroke-width="1.3" />
<line x1="80.07" y1="451.02" x2="80.07" y2="454.88" stroke="#3a3a3a" stroke-width="1.0" />
<line x1="78.57" y1="451.02" x2="81.57" y2="451.02" stroke="#3a3a3a" stroke-width="1.3" />
<line x1="78.57" y1="454.88" x2="81.57" y2="454.88" stroke="#3a3a3a" stroke-width="1.3" />
<line x1="90.30" y1="446.19" x2="90.30" y2="450.05" stroke="#3a3a3a" stroke-width="1.0" />
<line x1="88.80" y1="446.19" x2="91.80" y2="446.19" stroke="#3a3a3a" stroke-width="1.3" />
<line x1="88.80" y1="450.05" x2="91.80" y2="450.05" stroke="#3a3a3a" stroke-width="1.3" />
<line x1="103.94" y1="441.84" x2="103.94" y2="446.67" stroke="#3a3a3a" stroke-width="1.0" />
<line x1="102.44" y1="441.84" x2="105.44" y2="441.84" stroke="#3a3a3a" stroke-width="1.3" />
<line x1="102.44" y1="446.67" x2="105.44" y2="446.67" stroke="#3a3a3a" stroke-width="1.3" />
<line x1="114.17" y1="439.42" x2="114.17" y2="445.22" stroke="#3a3a3a" stroke-width="1.0" />
<line x1="112.67" y1="439.42" x2="115.67" y2="439.42" stroke="#3a3a3a" stroke-width="1.3" />
<line x1="112.67" y1="445.22" x2="115.67" y2="445.22" stroke="#3a3a3a" stroke-width="1.3" />
<line x1="127.81" y1="436.52" x2="127.81" y2="441.35" stroke="#3a3a3a" stroke-width="1.0" />
<line x1="126.31" y1="436.52" x2="129.31" y2="436.52" stroke="#3a3a3a" stroke-width="1.3" />
<line x1="126.31" y1="441.35" x2="129.31" y2="441.35" stroke="#3a3a3a" stroke-width="1.3" />
<line x1="138.04" y1="433.14" x2="138.04" y2="438.94" stroke="#3a3a3a" stroke-width="1.0" />
<line x1="136.54" y1="433.14" x2="139.54" y2="433.14" stroke="#3a3a3a" stroke-width="1.3" />
<line x1="136.54" y1="438.94" x2="139.54" y2="438.94" stroke="#3a3a3a" stroke-width="1.3" />
<line x1="151.68" y1="430.24" x2="151.68" y2="436.04" stroke="#3a3a3a" stroke-width="1.0" />
<line x1="150.18" y1="430.24" x2="153.18" y2="430.24" stroke="#3a3a3a" stroke-width="1.3" />
<line x1="150.18" y1="436.04" x2="153.18" y2="436.04" stroke="#3a3a3a" stroke-width="1.3" />
<line x1="161.91" y1="428.06" x2="161.91" y2="433.86" stroke="#3a3a3a" stroke-width="1.0" />
<line x1="160.41" y1="428.06" x2="163.41" y2="428.06" stroke="#3a3a3a" stroke-width="1.3" />
<line x1="160.41" y1="433.86" x2="163.41" y2="433.86" stroke="#3a3a3a" stroke-width="1.3" />
<line x1="175.55" y1="418.64" x2="175.55" y2="427.34" stroke="#3a3a3a" stroke-width="1.0" />
<line x1="174.05" y1="418.64" x2="177.05" y2="418.64" stroke="#3a3a3a" stroke-width="1.3" />
<line x1="174.05" y1="427.34" x2="177.05" y2="427.34" stroke="#3a3a3a" stroke-width="1.3" />
<line x1="185.78" y1="410.90" x2="185.78" y2="424.44" stroke="#3a3a3a" stroke-width="1.0" />
<line x1="184.28" y1="410.90" x2="187.28" y2="410.90" stroke="#3a3a3a" stroke-width="1.3" />
<line x1="184.28" y1="424.44" x2="187.28" y2="424.44" stroke="#3a3a3a" stroke-width="1.3" />
<line x1="199.42" y1="400.75" x2="199.42" y2="417.19" stroke="#3a3a3a" stroke-width="1.0" />
<line x1="197.92" y1="400.75" x2="200.92" y2="400.75" stroke="#3a3a3a" stroke-width="1.3" />
<line x1="197.92" y1="417.19" x2="200.92" y2="417.19" stroke="#3a3a3a" stroke-width="1.3" />
<line x1="209.65" y1="383.84" x2="209.65" y2="408.00" stroke="#3a3a3a" stroke-width="1.0" />
<line x1="208.15" y1="383.84" x2="211.15" y2="383.84" stroke="#3a3a3a" stroke-width="1.3" />
<line x1="208.15" y1="408.00" x2="211.15" y2="408.00" stroke="#3a3a3a" stroke-width="1.3" />
<line x1="223.29" y1="369.82" x2="223.29" y2="393.02" stroke="#3a3a3a" stroke-width="1.0" />
<line x1="221.79" y1="369.82" x2="224.79" y2="369.82" stroke="#3a3a3a" stroke-width="1.3" />
<line x1="221.79" y1="393.02" x2="224.79" y2="393.02" stroke="#3a3a3a" stroke-width="1.3" />
<line x1="233.52" y1="346.14" x2="233.52" y2="379.97" stroke="#3a3a3a" stroke-width="1.0" />
<line x1="232.02" y1="346.14" x2="235.02" y2="346.14" stroke="#3a3a3a" stroke-width="1.3" />
<line x1="232.02" y1="379.97" x2="235.02" y2="379.97" stroke="#3a3a3a" stroke-width="1.3" />
<line x1="247.16" y1="338.41" x2="247.16" y2="361.61" stroke="#3a3a3a" stroke-width="1.0" />
<line x1="245.66" y1="338.41" x2="248.66" y2="338.41" stroke="#3a3a3a" stroke-width="1.3" />
<line x1="245.66" y1="361.61" x2="248.66" y2="361.61" stroke="#3a3a3a" stroke-width="1.3" />
<polyline points="56.20,471.80 66.43,460.93 80.07,452.95 90.30,448.12 103.94,444.25 114.17,442.32 127.81,438.94 138.04,436.04 151.68,433.14 161.91,430.96 175.55,422.99 185.78,417.67 199.42,408.97 209.65,395.92 223.29,381.42 233.52,363.06 247.16,350.01" stroke="#111" stroke-width="1.45" fill="none" stroke-linejoin="round" />
<line x1="55.10" y1="471.80" x2="56.70" y2="471.80" stroke="#222" stroke-width="1.2" />
<text x="54.10" y="474.40" font-family="'Liberation Sans', sans-serif" font-size="7.1" font-weight="bold" fill="#111" text-anchor="end" textLength="3.9" lengthAdjust="spacingAndGlyphs" stroke="#111" stroke-width="0.25" >0</text>
<line x1="55.10" y1="423.47" x2="56.70" y2="423.47" stroke="#222" stroke-width="1.2" />
<text x="54.10" y="426.07" font-family="'Liberation Sans', sans-serif" font-size="7.1" font-weight="bold" fill="#111" text-anchor="end" textLength="11.7" lengthAdjust="spacingAndGlyphs" stroke="#111" stroke-width="0.25" >100</text>
<line x1="55.10" y1="375.14" x2="56.70" y2="375.14" stroke="#222" stroke-width="1.2" />
<text x="54.10" y="377.74" font-family="'Liberation Sans', sans-serif" font-size="7.1" font-weight="bold" fill="#111" text-anchor="end" textLength="11.7" lengthAdjust="spacingAndGlyphs" stroke="#111" stroke-width="0.25" >200</text>
<line x1="55.10" y1="326.81" x2="56.70" y2="326.81" stroke="#222" stroke-width="1.2" />
<text x="54.10" y="329.41" font-family="'Liberation Sans', sans-serif" font-size="7.1" font-weight="bold" fill="#111" text-anchor="end" textLength="11.7" lengthAdjust="spacingAndGlyphs" stroke="#111" stroke-width="0.25" >300</text>
<line x1="56.20" y1="471.80" x2="56.20" y2="474.40" stroke="#222" stroke-width="1.2" />
<text x="56.20" y="482.50" font-family="'Liberation Sans', sans-serif" font-size="7.1" font-weight="bold" fill="#111" text-anchor="middle" textLength="3.7" lengthAdjust="spacingAndGlyphs" stroke="#111" stroke-width="0.25" >0</text>
<line x1="90.30" y1="471.80" x2="90.30" y2="474.40" stroke="#222" stroke-width="1.2" />
<text x="90.30" y="482.50" font-family="'Liberation Sans', sans-serif" font-size="7.1" font-weight="bold" fill="#111" text-anchor="middle" textLength="7.4" lengthAdjust="spacingAndGlyphs" stroke="#111" stroke-width="0.25" >10</text>
<line x1="124.40" y1="471.80" x2="124.40" y2="474.40" stroke="#222" stroke-width="1.2" />
<text x="124.40" y="482.50" font-family="'Liberation Sans', sans-serif" font-size="7.1" font-weight="bold" fill="#111" text-anchor="middle" textLength="7.4" lengthAdjust="spacingAndGlyphs" stroke="#111" stroke-width="0.25" >20</text>
<line x1="158.50" y1="471.80" x2="158.50" y2="474.40" stroke="#222" stroke-width="1.2" />
<text x="158.50" y="482.50" font-family="'Liberation Sans', sans-serif" font-size="7.1" font-weight="bold" fill="#111" text-anchor="middle" textLength="7.4" lengthAdjust="spacingAndGlyphs" stroke="#111" stroke-width="0.25" >30</text>
<line x1="192.60" y1="471.80" x2="192.60" y2="474.40" stroke="#222" stroke-width="1.2" />
<text x="192.60" y="482.50" font-family="'Liberation Sans', sans-serif" font-size="7.1" font-weight="bold" fill="#111" text-anchor="middle" textLength="7.4" lengthAdjust="spacingAndGlyphs" stroke="#111" stroke-width="0.25" >40</text>
<line x1="226.70" y1="471.80" x2="226.70" y2="474.40" stroke="#222" stroke-width="1.2" />
<text x="226.70" y="482.50" font-family="'Liberation Sans', sans-serif" font-size="7.1" font-weight="bold" fill="#111" text-anchor="middle" textLength="7.4" lengthAdjust="spacingAndGlyphs" stroke="#111" stroke-width="0.25" >50</text>
<line x1="260.80" y1="471.80" x2="260.80" y2="474.40" stroke="#222" stroke-width="1.2" />
<text x="260.80" y="482.50" font-family="'Liberation Sans', sans-serif" font-size="7.1" font-weight="bold" fill="#111" text-anchor="middle" textLength="7.4" lengthAdjust="spacingAndGlyphs" stroke="#111" stroke-width="0.25" >60</text>
<line x1="60.00" y1="325.90" x2="70.50" y2="325.90" stroke="#333" stroke-width="1.6" />
<line x1="60.00" y1="334.10" x2="70.50" y2="334.10" stroke="#3cc43c" stroke-width="1.6" />
<line x1="60.00" y1="342.30" x2="70.50" y2="342.30" stroke="#2d53b8" stroke-width="1.6" />
<text x="73.90" y="328.30" font-family="'Liberation Serif', serif" font-size="6.6" font-weight="bold" fill="#222" text-anchor="start" textLength="23.1" lengthAdjust="spacingAndGlyphs" >Control</text>
<text x="73.90" y="336.50" font-family="'Liberation Serif', serif" font-size="6.6" font-weight="bold" fill="#222" text-anchor="start" textLength="49.7" lengthAdjust="spacingAndGlyphs" >GFP mRNA-LNP</text>
<text x="73.90" y="344.80" font-family="'Liberation Serif', serif" font-size="6.6" font-weight="bold" fill="#222" text-anchor="start" textLength="78.1" lengthAdjust="spacingAndGlyphs" >HER2-CD3-Fc mRNA-LNP</text>
<polyline points="135.40,325.90 142.40,325.90 142.40,334.40 135.40,334.40" stroke="#777" stroke-width="0.9" fill="none" stroke-linejoin="round" />
<text x="0.00" y="0.00" font-family="'Liberation Serif', serif" font-size="7.6" font-weight="bold" fill="#222" text-anchor="start" textLength="9.8" lengthAdjust="spacingAndGlyphs" transform="translate(145.3,325.6) rotate(90)">N.S</text>
<polyline points="161.50,330.00 169.20,330.00 169.20,342.50 161.50,342.50" stroke="#777" stroke-width="0.9" fill="none" stroke-linejoin="round" />
<circle cx="173.2" cy="331.20" r="1.2" fill="#333"/>
<circle cx="173.2" cy="334.75" r="1.2" fill="#333"/>
<circle cx="173.2" cy="338.30" r="1.2" fill="#333"/>
<circle cx="173.2" cy="341.85" r="1.2" fill="#333"/>
<text x="0.00" y="0.00" font-family="'Liberation Serif', serif" font-size="11.1" font-weight="bold" fill="#111" text-anchor="start" textLength="111" lengthAdjust="spacingAndGlyphs" stroke="#111" stroke-width="0.2" transform="translate(37.2,454.6) rotate(-90)">Tumor volume (mm<tspan font-size="4.6" dy="-4.9">3</tspan><tspan dy="4.9">)</tspan></text>
<text x="108.80" y="496.00" font-family="'Liberation Serif', serif" font-size="11.8" font-weight="normal" fill="#111" text-anchor="start" textLength="99.3" lengthAdjust="spacingAndGlyphs" stroke="#111" stroke-width="0.3" >Days post transplant</text>
<polyline points="306.60,406.47 316.84,407.04 330.49,406.47 340.73,403.01 354.38,398.97 364.62,396.67 378.27,394.94 388.51,392.06 402.16,390.04 412.40,396.67 426.06,393.79 436.29,392.06 449.95,386.29 460.19,386.87 473.84,392.06 484.08,385.72 497.73,389.75" stroke="#3cc43c" stroke-width="1.4" fill="none" stroke-linejoin="round" />
<line x1="306.60" y1="401.28" x2="306.60" y2="411.65" stroke="#3cc43c" stroke-width="0.8" />
<line x1="305.00" y1="401.28" x2="308.20" y2="401.28" stroke="#3cc43c" stroke-width="0.8" />
<line x1="305.00" y1="411.65" x2="308.20" y2="411.65" stroke="#3cc43c" stroke-width="0.8" />
<line x1="316.84" y1="401.28" x2="316.84" y2="412.81" stroke="#3cc43c" stroke-width="0.8" />
<line x1="315.24" y1="401.28" x2="318.44" y2="401.28" stroke="#3cc43c" stroke-width="0.8" />
<line x1="315.24" y1="412.81" x2="318.44" y2="412.81" stroke="#3cc43c" stroke-width="0.8" />
<line x1="330.49" y1="401.86" x2="330.49" y2="411.08" stroke="#3cc43c" stroke-width="0.8" />
<line x1="328.89" y1="401.86" x2="332.09" y2="401.86" stroke="#3cc43c" stroke-width="0.8" />
<line x1="328.89" y1="411.08" x2="332.09" y2="411.08" stroke="#3cc43c" stroke-width="0.8" />
<line x1="340.73" y1="397.82" x2="340.73" y2="408.20" stroke="#3cc43c" stroke-width="0.8" />
<line x1="339.13" y1="397.82" x2="342.33" y2="397.82" stroke="#3cc43c" stroke-width="0.8" />
<line x1="339.13" y1="408.20" x2="342.33" y2="408.20" stroke="#3cc43c" stroke-width="0.8" />
<line x1="354.38" y1="393.21" x2="354.38" y2="404.74" stroke="#3cc43c" stroke-width="0.8" />
<line x1="352.78" y1="393.21" x2="355.98" y2="393.21" stroke="#3cc43c" stroke-width="0.8" />
<line x1="352.78" y1="404.74" x2="355.98" y2="404.74" stroke="#3cc43c" stroke-width="0.8" />
<line x1="364.62" y1="392.06" x2="364.62" y2="401.28" stroke="#3cc43c" stroke-width="0.8" />
<line x1="363.02" y1="392.06" x2="366.22" y2="392.06" stroke="#3cc43c" stroke-width="0.8" />
<line x1="363.02" y1="401.28" x2="366.22" y2="401.28" stroke="#3cc43c" stroke-width="0.8" />
<line x1="378.27" y1="390.33" x2="378.27" y2="399.55" stroke="#3cc43c" stroke-width="0.8" />
<line x1="376.67" y1="390.33" x2="379.87" y2="390.33" stroke="#3cc43c" stroke-width="0.8" />
<line x1="376.67" y1="399.55" x2="379.87" y2="399.55" stroke="#3cc43c" stroke-width="0.8" />
<line x1="388.51" y1="387.45" x2="388.51" y2="396.67" stroke="#3cc43c" stroke-width="0.8" />
<line x1="386.91" y1="387.45" x2="390.11" y2="387.45" stroke="#3cc43c" stroke-width="0.8" />
<line x1="386.91" y1="396.67" x2="390.11" y2="396.67" stroke="#3cc43c" stroke-width="0.8" />
<line x1="402.16" y1="385.43" x2="402.16" y2="394.65" stroke="#3cc43c" stroke-width="0.8" />
<line x1="400.56" y1="385.43" x2="403.76" y2="385.43" stroke="#3cc43c" stroke-width="0.8" />
<line x1="400.56" y1="394.65" x2="403.76" y2="394.65" stroke="#3cc43c" stroke-width="0.8" />
<line x1="412.40" y1="392.63" x2="412.40" y2="400.70" stroke="#3cc43c" stroke-width="0.8" />
<line x1="410.80" y1="392.63" x2="414.00" y2="392.63" stroke="#3cc43c" stroke-width="0.8" />
<line x1="410.80" y1="400.70" x2="414.00" y2="400.70" stroke="#3cc43c" stroke-width="0.8" />
<line x1="426.06" y1="389.75" x2="426.06" y2="397.82" stroke="#3cc43c" stroke-width="0.8" />
<line x1="424.45" y1="389.75" x2="427.66" y2="389.75" stroke="#3cc43c" stroke-width="0.8" />
<line x1="424.45" y1="397.82" x2="427.66" y2="397.82" stroke="#3cc43c" stroke-width="0.8" />
<line x1="436.29" y1="387.45" x2="436.29" y2="396.67" stroke="#3cc43c" stroke-width="0.8" />
<line x1="434.69" y1="387.45" x2="437.89" y2="387.45" stroke="#3cc43c" stroke-width="0.8" />
<line x1="434.69" y1="396.67" x2="437.89" y2="396.67" stroke="#3cc43c" stroke-width="0.8" />
<line x1="449.95" y1="380.53" x2="449.95" y2="392.06" stroke="#3cc43c" stroke-width="0.8" />
<line x1="448.35" y1="380.53" x2="451.55" y2="380.53" stroke="#3cc43c" stroke-width="0.8" />
<line x1="448.35" y1="392.06" x2="451.55" y2="392.06" stroke="#3cc43c" stroke-width="0.8" />
<line x1="460.19" y1="381.68" x2="460.19" y2="392.06" stroke="#3cc43c" stroke-width="0.8" />
<line x1="458.58" y1="381.68" x2="461.79" y2="381.68" stroke="#3cc43c" stroke-width="0.8" />
<line x1="458.58" y1="392.06" x2="461.79" y2="392.06" stroke="#3cc43c" stroke-width="0.8" />
<line x1="473.84" y1="386.29" x2="473.84" y2="397.82" stroke="#3cc43c" stroke-width="0.8" />
<line x1="472.24" y1="386.29" x2="475.44" y2="386.29" stroke="#3cc43c" stroke-width="0.8" />
<line x1="472.24" y1="397.82" x2="475.44" y2="397.82" stroke="#3cc43c" stroke-width="0.8" />
<line x1="484.08" y1="380.53" x2="484.08" y2="390.90" stroke="#3cc43c" stroke-width="0.8" />
<line x1="482.48" y1="380.53" x2="485.68" y2="380.53" stroke="#3cc43c" stroke-width="0.8" />
<line x1="482.48" y1="390.90" x2="485.68" y2="390.90" stroke="#3cc43c" stroke-width="0.8" />
<line x1="497.73" y1="385.14" x2="497.73" y2="394.36" stroke="#3cc43c" stroke-width="0.8" />
<line x1="496.13" y1="385.14" x2="499.33" y2="385.14" stroke="#3cc43c" stroke-width="0.8" />
<line x1="496.13" y1="394.36" x2="499.33" y2="394.36" stroke="#3cc43c" stroke-width="0.8" />
<polyline points="306.60,415.69 316.84,416.84 330.49,415.40 340.73,409.35 354.38,408.77 364.62,405.31 378.27,403.58 388.51,400.13 402.16,397.24 412.40,400.70 426.06,395.52 436.29,392.63 449.95,389.75 460.19,389.75 473.84,392.06 484.08,390.90 497.73,392.06" stroke="#2d53b8" stroke-width="1.4" fill="none" stroke-linejoin="round" />
<line x1="306.60" y1="410.50" x2="306.60" y2="420.88" stroke="#2d53b8" stroke-width="0.8" />
<line x1="305.00" y1="410.50" x2="308.20" y2="410.50" stroke="#2d53b8" stroke-width="0.8" />
<line x1="305.00" y1="420.88" x2="308.20" y2="420.88" stroke="#2d53b8" stroke-width="0.8" />
<line x1="316.84" y1="412.23" x2="316.84" y2="421.45" stroke="#2d53b8" stroke-width="0.8" />
<line x1="315.24" y1="412.23" x2="318.44" y2="412.23" stroke="#2d53b8" stroke-width="0.8" />
<line x1="315.24" y1="421.45" x2="318.44" y2="421.45" stroke="#2d53b8" stroke-width="0.8" />
<line x1="330.49" y1="410.79" x2="330.49" y2="420.01" stroke="#2d53b8" stroke-width="0.8" />
<line x1="328.89" y1="410.79" x2="332.09" y2="410.79" stroke="#2d53b8" stroke-width="0.8" />
<line x1="328.89" y1="420.01" x2="332.09" y2="420.01" stroke="#2d53b8" stroke-width="0.8" />
<line x1="340.73" y1="404.16" x2="340.73" y2="414.54" stroke="#2d53b8" stroke-width="0.8" />
<line x1="339.13" y1="404.16" x2="342.33" y2="404.16" stroke="#2d53b8" stroke-width="0.8" />
<line x1="339.13" y1="414.54" x2="342.33" y2="414.54" stroke="#2d53b8" stroke-width="0.8" />
<line x1="354.38" y1="404.16" x2="354.38" y2="413.38" stroke="#2d53b8" stroke-width="0.8" />
<line x1="352.78" y1="404.16" x2="355.98" y2="404.16" stroke="#2d53b8" stroke-width="0.8" />
<line x1="352.78" y1="413.38" x2="355.98" y2="413.38" stroke="#2d53b8" stroke-width="0.8" />
<line x1="364.62" y1="400.70" x2="364.62" y2="409.93" stroke="#2d53b8" stroke-width="0.8" />
<line x1="363.02" y1="400.70" x2="366.22" y2="400.70" stroke="#2d53b8" stroke-width="0.8" />
<line x1="363.02" y1="409.93" x2="366.22" y2="409.93" stroke="#2d53b8" stroke-width="0.8" />
<line x1="378.27" y1="398.97" x2="378.27" y2="408.20" stroke="#2d53b8" stroke-width="0.8" />
<line x1="376.67" y1="398.97" x2="379.87" y2="398.97" stroke="#2d53b8" stroke-width="0.8" />
<line x1="376.67" y1="408.20" x2="379.87" y2="408.20" stroke="#2d53b8" stroke-width="0.8" />
<line x1="388.51" y1="395.52" x2="388.51" y2="404.74" stroke="#2d53b8" stroke-width="0.8" />
<line x1="386.91" y1="395.52" x2="390.11" y2="395.52" stroke="#2d53b8" stroke-width="0.8" />
<line x1="386.91" y1="404.74" x2="390.11" y2="404.74" stroke="#2d53b8" stroke-width="0.8" />
<line x1="402.16" y1="392.63" x2="402.16" y2="401.86" stroke="#2d53b8" stroke-width="0.8" />
<line x1="400.56" y1="392.63" x2="403.76" y2="392.63" stroke="#2d53b8" stroke-width="0.8" />
<line x1="400.56" y1="401.86" x2="403.76" y2="401.86" stroke="#2d53b8" stroke-width="0.8" />
<line x1="412.40" y1="396.67" x2="412.40" y2="404.74" stroke="#2d53b8" stroke-width="0.8" />
<line x1="410.80" y1="396.67" x2="414.00" y2="396.67" stroke="#2d53b8" stroke-width="0.8" />
<line x1="410.80" y1="404.74" x2="414.00" y2="404.74" stroke="#2d53b8" stroke-width="0.8" />
<line x1="426.06" y1="391.48" x2="426.06" y2="399.55" stroke="#2d53b8" stroke-width="0.8" />
<line x1="424.45" y1="391.48" x2="427.66" y2="391.48" stroke="#2d53b8" stroke-width="0.8" />
<line x1="424.45" y1="399.55" x2="427.66" y2="399.55" stroke="#2d53b8" stroke-width="0.8" />
<line x1="436.29" y1="388.02" x2="436.29" y2="397.24" stroke="#2d53b8" stroke-width="0.8" />
<line x1="434.69" y1="388.02" x2="437.89" y2="388.02" stroke="#2d53b8" stroke-width="0.8" />
<line x1="434.69" y1="397.24" x2="437.89" y2="397.24" stroke="#2d53b8" stroke-width="0.8" />
<line x1="449.95" y1="384.56" x2="449.95" y2="394.94" stroke="#2d53b8" stroke-width="0.8" />
<line x1="448.35" y1="384.56" x2="451.55" y2="384.56" stroke="#2d53b8" stroke-width="0.8" />
<line x1="448.35" y1="394.94" x2="451.55" y2="394.94" stroke="#2d53b8" stroke-width="0.8" />
<line x1="460.19" y1="384.56" x2="460.19" y2="394.94" stroke="#2d53b8" stroke-width="0.8" />
<line x1="458.58" y1="384.56" x2="461.79" y2="384.56" stroke="#2d53b8" stroke-width="0.8" />
<line x1="458.58" y1="394.94" x2="461.79" y2="394.94" stroke="#2d53b8" stroke-width="0.8" />
<line x1="473.84" y1="386.87" x2="473.84" y2="397.24" stroke="#2d53b8" stroke-width="0.8" />
<line x1="472.24" y1="386.87" x2="475.44" y2="386.87" stroke="#2d53b8" stroke-width="0.8" />
<line x1="472.24" y1="397.24" x2="475.44" y2="397.24" stroke="#2d53b8" stroke-width="0.8" />
<line x1="484.08" y1="385.72" x2="484.08" y2="396.09" stroke="#2d53b8" stroke-width="0.8" />
<line x1="482.48" y1="385.72" x2="485.68" y2="385.72" stroke="#2d53b8" stroke-width="0.8" />
<line x1="482.48" y1="396.09" x2="485.68" y2="396.09" stroke="#2d53b8" stroke-width="0.8" />
<line x1="497.73" y1="387.45" x2="497.73" y2="396.67" stroke="#2d53b8" stroke-width="0.8" />
<line x1="496.13" y1="387.45" x2="499.33" y2="387.45" stroke="#2d53b8" stroke-width="0.8" />
<line x1="496.13" y1="396.67" x2="499.33" y2="396.67" stroke="#2d53b8" stroke-width="0.8" />
<polyline points="306.60,415.11 316.84,413.38 330.49,409.35 340.73,409.35 354.38,405.89 364.62,400.70 378.27,399.55 388.51,394.94 402.16,390.56 412.40,400.13 426.06,397.82 436.29,395.52 449.95,393.21 460.19,389.75 473.84,392.06 484.08,390.56 497.73,391.48" stroke="#111" stroke-width="1.5" fill="none" stroke-linejoin="round" />
<line x1="306.60" y1="404.16" x2="306.60" y2="426.06" stroke="#111" stroke-width="0.8" />
<line x1="305.00" y1="404.16" x2="308.20" y2="404.16" stroke="#111" stroke-width="0.8" />
<line x1="305.00" y1="426.06" x2="308.20" y2="426.06" stroke="#111" stroke-width="0.8" />
<line x1="316.84" y1="403.58" x2="316.84" y2="423.18" stroke="#111" stroke-width="0.8" />
<line x1="315.24" y1="403.58" x2="318.44" y2="403.58" stroke="#111" stroke-width="0.8" />
<line x1="315.24" y1="423.18" x2="318.44" y2="423.18" stroke="#111" stroke-width="0.8" />
<line x1="330.49" y1="398.69" x2="330.49" y2="420.01" stroke="#111" stroke-width="0.8" />
<line x1="328.89" y1="398.69" x2="332.09" y2="398.69" stroke="#111" stroke-width="0.8" />
<line x1="328.89" y1="420.01" x2="332.09" y2="420.01" stroke="#111" stroke-width="0.8" />
<line x1="340.73" y1="397.24" x2="340.73" y2="421.45" stroke="#111" stroke-width="0.8" />
<line x1="339.13" y1="397.24" x2="342.33" y2="397.24" stroke="#111" stroke-width="0.8" />
<line x1="339.13" y1="421.45" x2="342.33" y2="421.45" stroke="#111" stroke-width="0.8" />
<line x1="354.38" y1="392.63" x2="354.38" y2="419.15" stroke="#111" stroke-width="0.8" />
<line x1="352.78" y1="392.63" x2="355.98" y2="392.63" stroke="#111" stroke-width="0.8" />
<line x1="352.78" y1="419.15" x2="355.98" y2="419.15" stroke="#111" stroke-width="0.8" />
<line x1="364.62" y1="389.75" x2="364.62" y2="411.65" stroke="#111" stroke-width="0.8" />
<line x1="363.02" y1="389.75" x2="366.22" y2="389.75" stroke="#111" stroke-width="0.8" />
<line x1="363.02" y1="411.65" x2="366.22" y2="411.65" stroke="#111" stroke-width="0.8" />
<line x1="378.27" y1="386.87" x2="378.27" y2="412.23" stroke="#111" stroke-width="0.8" />
<line x1="376.67" y1="386.87" x2="379.87" y2="386.87" stroke="#111" stroke-width="0.8" />
<line x1="376.67" y1="412.23" x2="379.87" y2="412.23" stroke="#111" stroke-width="0.8" />
<line x1="388.51" y1="379.95" x2="388.51" y2="409.93" stroke="#111" stroke-width="0.8" />
<line x1="386.91" y1="379.95" x2="390.11" y2="379.95" stroke="#111" stroke-width="0.8" />
<line x1="386.91" y1="409.93" x2="390.11" y2="409.93" stroke="#111" stroke-width="0.8" />
<line x1="402.16" y1="379.61" x2="402.16" y2="401.51" stroke="#111" stroke-width="0.8" />
<line x1="400.56" y1="379.61" x2="403.76" y2="379.61" stroke="#111" stroke-width="0.8" />
<line x1="400.56" y1="401.51" x2="403.76" y2="401.51" stroke="#111" stroke-width="0.8" />
<line x1="412.40" y1="389.17" x2="412.40" y2="411.08" stroke="#111" stroke-width="0.8" />
<line x1="410.80" y1="389.17" x2="414.00" y2="389.17" stroke="#111" stroke-width="0.8" />
<line x1="410.80" y1="411.08" x2="414.00" y2="411.08" stroke="#111" stroke-width="0.8" />
<line x1="426.06" y1="386.87" x2="426.06" y2="408.77" stroke="#111" stroke-width="0.8" />
<line x1="424.45" y1="386.87" x2="427.66" y2="386.87" stroke="#111" stroke-width="0.8" />
<line x1="424.45" y1="408.77" x2="427.66" y2="408.77" stroke="#111" stroke-width="0.8" />
<line x1="436.29" y1="379.95" x2="436.29" y2="411.08" stroke="#111" stroke-width="0.8" />
<line x1="434.69" y1="379.95" x2="437.89" y2="379.95" stroke="#111" stroke-width="0.8" />
<line x1="434.69" y1="411.08" x2="437.89" y2="411.08" stroke="#111" stroke-width="0.8" />
<line x1="449.95" y1="373.61" x2="449.95" y2="412.81" stroke="#111" stroke-width="0.8" />
<line x1="448.35" y1="373.61" x2="451.55" y2="373.61" stroke="#111" stroke-width="0.8" />
<line x1="448.35" y1="412.81" x2="451.55" y2="412.81" stroke="#111" stroke-width="0.8" />
<line x1="460.19" y1="374.19" x2="460.19" y2="405.31" stroke="#111" stroke-width="0.8" />
<line x1="458.58" y1="374.19" x2="461.79" y2="374.19" stroke="#111" stroke-width="0.8" />
<line x1="458.58" y1="405.31" x2="461.79" y2="405.31" stroke="#111" stroke-width="0.8" />
<line x1="473.84" y1="374.19" x2="473.84" y2="409.93" stroke="#111" stroke-width="0.8" />
<line x1="472.24" y1="374.19" x2="475.44" y2="374.19" stroke="#111" stroke-width="0.8" />
<line x1="472.24" y1="409.93" x2="475.44" y2="409.93" stroke="#111" stroke-width="0.8" />
<line x1="484.08" y1="370.96" x2="484.08" y2="410.16" stroke="#111" stroke-width="0.8" />
<line x1="482.48" y1="370.96" x2="485.68" y2="370.96" stroke="#111" stroke-width="0.8" />
<line x1="482.48" y1="410.16" x2="485.68" y2="410.16" stroke="#111" stroke-width="0.8" />
<line x1="497.73" y1="375.92" x2="497.73" y2="407.04" stroke="#111" stroke-width="0.8" />
<line x1="496.13" y1="375.92" x2="499.33" y2="375.92" stroke="#111" stroke-width="0.8" />
<line x1="496.13" y1="407.04" x2="499.33" y2="407.04" stroke="#111" stroke-width="0.8" />
<line x1="306.70" y1="327.30" x2="306.70" y2="472.40" stroke="#222" stroke-width="1.5" />
<line x1="305.90" y1="471.60" x2="511.80" y2="471.60" stroke="#222" stroke-width="1.6" />
<line x1="305.10" y1="471.60" x2="306.70" y2="471.60" stroke="#222" stroke-width="1.2" />
<text x="303.90" y="474.20" font-family="'Liberation Sans', sans-serif" font-size="7.1" font-weight="bold" fill="#111" text-anchor="end" textLength="7.4" lengthAdjust="spacingAndGlyphs" stroke="#111" stroke-width="0.25" >10</text>
<line x1="305.10" y1="442.78" x2="306.70" y2="442.78" stroke="#222" stroke-width="1.2" />
<text x="303.90" y="445.38" font-family="'Liberation Sans', sans-serif" font-size="7.1" font-weight="bold" fill="#111" text-anchor="end" textLength="7.4" lengthAdjust="spacingAndGlyphs" stroke="#111" stroke-width="0.25" >15</text>
<line x1="305.10" y1="413.96" x2="306.70" y2="413.96" stroke="#222" stroke-width="1.2" />
<text x="303.90" y="416.56" font-family="'Liberation Sans', sans-serif" font-size="7.1" font-weight="bold" fill="#111" text-anchor="end" textLength="7.4" lengthAdjust="spacingAndGlyphs" stroke="#111" stroke-width="0.25" >20</text>
<line x1="305.10" y1="385.14" x2="306.70" y2="385.14" stroke="#222" stroke-width="1.2" />
<text x="303.90" y="387.74" font-family="'Liberation Sans', sans-serif" font-size="7.1" font-weight="bold" fill="#111" text-anchor="end" textLength="7.4" lengthAdjust="spacingAndGlyphs" stroke="#111" stroke-width="0.25" >25</text>
<line x1="305.10" y1="356.32" x2="306.70" y2="356.32" stroke="#222" stroke-width="1.2" />
<text x="303.90" y="358.92" font-family="'Liberation Sans', sans-serif" font-size="7.1" font-weight="bold" fill="#111" text-anchor="end" textLength="7.4" lengthAdjust="spacingAndGlyphs" stroke="#111" stroke-width="0.25" >30</text>
<line x1="305.10" y1="327.50" x2="306.70" y2="327.50" stroke="#222" stroke-width="1.2" />
<text x="303.90" y="330.10" font-family="'Liberation Sans', sans-serif" font-size="7.1" font-weight="bold" fill="#111" text-anchor="end" textLength="7.4" lengthAdjust="spacingAndGlyphs" stroke="#111" stroke-width="0.25" >35</text>
<line x1="306.60" y1="471.60" x2="306.60" y2="474.20" stroke="#222" stroke-width="1.2" />
<text x="306.60" y="482.60" font-family="'Liberation Sans', sans-serif" font-size="7.1" font-weight="bold" fill="#111" text-anchor="middle" textLength="3.6" lengthAdjust="spacingAndGlyphs" stroke="#111" stroke-width="0.25" >0</text>
<line x1="340.73" y1="471.60" x2="340.73" y2="474.20" stroke="#222" stroke-width="1.2" />
<text x="340.73" y="482.60" font-family="'Liberation Sans', sans-serif" font-size="7.1" font-weight="bold" fill="#111" text-anchor="middle" textLength="7.2" lengthAdjust="spacingAndGlyphs" stroke="#111" stroke-width="0.25" >10</text>
<line x1="374.86" y1="471.60" x2="374.86" y2="474.20" stroke="#222" stroke-width="1.2" />
<text x="374.86" y="482.60" font-family="'Liberation Sans', sans-serif" font-size="7.1" font-weight="bold" fill="#111" text-anchor="middle" textLength="7.2" lengthAdjust="spacingAndGlyphs" stroke="#111" stroke-width="0.25" >20</text>
<line x1="408.99" y1="471.60" x2="408.99" y2="474.20" stroke="#222" stroke-width="1.2" />
<text x="408.99" y="482.60" font-family="'Liberation Sans', sans-serif" font-size="7.1" font-weight="bold" fill="#111" text-anchor="middle" textLength="7.2" lengthAdjust="spacingAndGlyphs" stroke="#111" stroke-width="0.25" >30</text>
<line x1="443.12" y1="471.60" x2="443.12" y2="474.20" stroke="#222" stroke-width="1.2" />
<text x="443.12" y="482.60" font-family="'Liberation Sans', sans-serif" font-size="7.1" font-weight="bold" fill="#111" text-anchor="middle" textLength="7.2" lengthAdjust="spacingAndGlyphs" stroke="#111" stroke-width="0.25" >40</text>
<line x1="477.25" y1="471.60" x2="477.25" y2="474.20" stroke="#222" stroke-width="1.2" />
<text x="477.25" y="482.60" font-family="'Liberation Sans', sans-serif" font-size="7.1" font-weight="bold" fill="#111" text-anchor="middle" textLength="7.2" lengthAdjust="spacingAndGlyphs" stroke="#111" stroke-width="0.25" >50</text>
<line x1="511.38" y1="471.60" x2="511.38" y2="474.20" stroke="#222" stroke-width="1.2" />
<text x="511.38" y="482.60" font-family="'Liberation Sans', sans-serif" font-size="7.1" font-weight="bold" fill="#111" text-anchor="middle" textLength="7.2" lengthAdjust="spacingAndGlyphs" stroke="#111" stroke-width="0.25" >60</text>
<line x1="310.00" y1="327.60" x2="320.50" y2="327.60" stroke="#222" stroke-width="1.0" />
<line x1="310.00" y1="336.00" x2="320.50" y2="336.00" stroke="#3cc43c" stroke-width="1.6" />
<line x1="310.00" y1="344.50" x2="320.50" y2="344.50" stroke="#2d53b8" stroke-width="1.6" />
<text x="324.70" y="329.20" font-family="'Liberation Serif', serif" font-size="6.7" font-weight="bold" fill="#222" text-anchor="start" textLength="23.1" lengthAdjust="spacingAndGlyphs" >Control</text>
<text x="324.70" y="338.10" font-family="'Liberation Serif', serif" font-size="6.7" font-weight="bold" fill="#222" text-anchor="start" textLength="49.1" lengthAdjust="spacingAndGlyphs" >GFP mRNA-LNP</text>
<text x="324.70" y="346.50" font-family="'Liberation Serif', serif" font-size="6.7" font-weight="bold" fill="#222" text-anchor="start" textLength="79.6" lengthAdjust="spacingAndGlyphs" >HER2-CD3-Fc mRNA-LNP</text>
<polyline points="390.40,327.30 398.00,327.30 398.00,336.00 390.40,336.00" stroke="#777" stroke-width="0.9" fill="none" stroke-linejoin="round" />
<text x="0.00" y="0.00" font-family="'Liberation Serif', serif" font-size="7.2" font-weight="bold" fill="#111" text-anchor="start" textLength="10.9" lengthAdjust="spacingAndGlyphs" stroke="#111" stroke-width="0.15" transform="translate(400.3,326.7) rotate(90)">N.S.</text>
<polyline points="417.60,332.00 424.70,332.00 424.70,345.30 417.60,345.30" stroke="#777" stroke-width="0.9" fill="none" stroke-linejoin="round" />
<text x="0.00" y="0.00" font-family="'Liberation Serif', serif" font-size="7.2" font-weight="bold" fill="#111" text-anchor="start" textLength="10.7" lengthAdjust="spacingAndGlyphs" stroke="#111" stroke-width="0.15" transform="translate(427.5,334) rotate(90)">N.S.</text>
<text x="0.00" y="0.00" font-family="'Liberation Serif', serif" font-size="10.2" font-weight="bold" fill="#111" text-anchor="start" textLength="52.2" lengthAdjust="spacingAndGlyphs" stroke="#111" stroke-width="0.2" transform="translate(290.5,425.2) rotate(-90)">Weight (g)</text>
<text x="363.40" y="495.90" font-family="'Liberation Serif', serif" font-size="11.8" font-weight="normal" fill="#111" text-anchor="start" textLength="98.7" lengthAdjust="spacingAndGlyphs" stroke="#111" stroke-width="0.3" >Days post transplant</text>
<line x1="36.50" y1="544.80" x2="36.50" y2="655.10" stroke="#707070" stroke-width="1.3" />
<line x1="35.70" y1="654.60" x2="175.70" y2="654.60" stroke="#222" stroke-width="1.2" />
<line x1="34.40" y1="654.60" x2="36.20" y2="654.60" stroke="#333" stroke-width="1.0" />
<text x="33.90" y="657.50" font-family="'Liberation Sans', sans-serif" font-size="8.6" font-weight="normal" fill="#222" text-anchor="end" textLength="3.1" lengthAdjust="spacingAndGlyphs" stroke="#222" stroke-width="0.25" >0</text>
<line x1="34.40" y1="627.15" x2="36.20" y2="627.15" stroke="#333" stroke-width="1.0" />
<text x="33.90" y="630.05" font-family="'Liberation Sans', sans-serif" font-size="8.6" font-weight="normal" fill="#222" text-anchor="end" textLength="9.3" lengthAdjust="spacingAndGlyphs" stroke="#222" stroke-width="0.25" >100</text>
<line x1="34.40" y1="599.70" x2="36.20" y2="599.70" stroke="#333" stroke-width="1.0" />
<text x="33.90" y="602.60" font-family="'Liberation Sans', sans-serif" font-size="8.6" font-weight="normal" fill="#222" text-anchor="end" textLength="9.3" lengthAdjust="spacingAndGlyphs" stroke="#222" stroke-width="0.25" >200</text>
<line x1="34.40" y1="572.25" x2="36.20" y2="572.25" stroke="#333" stroke-width="1.0" />
<text x="33.90" y="575.15" font-family="'Liberation Sans', sans-serif" font-size="8.6" font-weight="normal" fill="#222" text-anchor="end" textLength="9.3" lengthAdjust="spacingAndGlyphs" stroke="#222" stroke-width="0.25" >300</text>
<line x1="34.40" y1="544.80" x2="36.20" y2="544.80" stroke="#333" stroke-width="1.0" />
<text x="33.90" y="547.70" font-family="'Liberation Sans', sans-serif" font-size="8.6" font-weight="normal" fill="#222" text-anchor="end" textLength="9.3" lengthAdjust="spacingAndGlyphs" stroke="#222" stroke-width="0.25" >400</text>
<rect x="51.00" y="642.52" width="26.30" height="12.08" fill="#000"/>
<line x1="64.15" y1="632.09" x2="64.15" y2="650.21" stroke="#b4b4b4" stroke-width="1.0" />
<line x1="57.35" y1="632.09" x2="70.95" y2="632.09" stroke="#b4b4b4" stroke-width="1.1" />
<line x1="57.35" y1="650.21" x2="70.95" y2="650.21" stroke="#b4b4b4" stroke-width="1.1" />
<line x1="64.15" y1="654.60" x2="64.15" y2="657.10" stroke="#666" stroke-width="0.8" />
<rect x="92.70" y="632.91" width="25.70" height="21.69" fill="#3dbf35"/>
<line x1="105.55" y1="613.70" x2="105.55" y2="649.38" stroke="#b4b4b4" stroke-width="1.0" />
<line x1="98.75" y1="613.70" x2="112.35" y2="613.70" stroke="#b4b4b4" stroke-width="1.1" />
<line x1="98.75" y1="649.38" x2="112.35" y2="649.38" stroke="#b4b4b4" stroke-width="1.1" />
<line x1="105.55" y1="654.60" x2="105.55" y2="657.10" stroke="#666" stroke-width="0.8" />
<rect x="134.10" y="633.05" width="25.50" height="21.55" fill="#435bac"/>
<line x1="146.85" y1="632.09" x2="146.85" y2="633.74" stroke="#b4b4b4" stroke-width="1.0" />
<line x1="140.05" y1="632.09" x2="153.65" y2="632.09" stroke="#b4b4b4" stroke-width="1.1" />
<line x1="140.05" y1="633.74" x2="153.65" y2="633.74" stroke="#b4b4b4" stroke-width="1.1" />
<line x1="146.85" y1="654.60" x2="146.85" y2="657.10" stroke="#666" stroke-width="0.8" />
<line x1="65.40" y1="565.00" x2="149.40" y2="565.00" stroke="#999" stroke-width="1.6" />
<text x="102.30" y="562.30" font-family="'Liberation Sans', sans-serif" font-size="7.2" font-weight="normal" fill="#333" text-anchor="start" textLength="10.6" lengthAdjust="spacingAndGlyphs" stroke="#333" stroke-width="0.15" >N.S.</text>
<line x1="107.40" y1="576.40" x2="149.40" y2="576.40" stroke="#999" stroke-width="1.6" />
<text x="122.70" y="573.70" font-family="'Liberation Sans', sans-serif" font-size="7.2" font-weight="normal" fill="#333" text-anchor="start" textLength="10.6" lengthAdjust="spacingAndGlyphs" stroke="#333" stroke-width="0.15" >N.S.</text>
<text x="0.00" y="0.00" font-family="'Liberation Serif', serif" font-size="10.4" font-weight="bold" fill="#111" text-anchor="start" textLength="50.1" lengthAdjust="spacingAndGlyphs" stroke="#111" stroke-width="0.2" transform="translate(20.2,620.4) rotate(-90)">ALT (U/L)</text>
<line x1="220.00" y1="544.80" x2="220.00" y2="655.10" stroke="#707070" stroke-width="1.3" />
<line x1="219.20" y1="654.60" x2="359.20" y2="654.60" stroke="#222" stroke-width="1.2" />
<line x1="217.90" y1="654.60" x2="219.70" y2="654.60" stroke="#333" stroke-width="1.0" />
<text x="217.40" y="657.50" font-family="'Liberation Sans', sans-serif" font-size="8.6" font-weight="normal" fill="#222" text-anchor="end" textLength="3.1" lengthAdjust="spacingAndGlyphs" stroke="#222" stroke-width="0.25" >0</text>
<line x1="217.90" y1="627.15" x2="219.70" y2="627.15" stroke="#333" stroke-width="1.0" />
<text x="217.40" y="630.05" font-family="'Liberation Sans', sans-serif" font-size="8.6" font-weight="normal" fill="#222" text-anchor="end" textLength="9.3" lengthAdjust="spacingAndGlyphs" stroke="#222" stroke-width="0.25" >100</text>
<line x1="217.90" y1="599.70" x2="219.70" y2="599.70" stroke="#333" stroke-width="1.0" />
<text x="217.40" y="602.60" font-family="'Liberation Sans', sans-serif" font-size="8.6" font-weight="normal" fill="#222" text-anchor="end" textLength="9.3" lengthAdjust="spacingAndGlyphs" stroke="#222" stroke-width="0.25" >200</text>
<line x1="217.90" y1="572.25" x2="219.70" y2="572.25" stroke="#333" stroke-width="1.0" />
<text x="217.40" y="575.15" font-family="'Liberation Sans', sans-serif" font-size="8.6" font-weight="normal" fill="#222" text-anchor="end" textLength="9.3" lengthAdjust="spacingAndGlyphs" stroke="#222" stroke-width="0.25" >300</text>
<line x1="217.90" y1="544.80" x2="219.70" y2="544.80" stroke="#333" stroke-width="1.0" />
<text x="217.40" y="547.70" font-family="'Liberation Sans', sans-serif" font-size="8.6" font-weight="normal" fill="#222" text-anchor="end" textLength="9.3" lengthAdjust="spacingAndGlyphs" stroke="#222" stroke-width="0.25" >400</text>
<rect x="234.50" y="634.56" width="25.70" height="20.04" fill="#000"/>
<line x1="247.35" y1="621.66" x2="247.35" y2="645.27" stroke="#b4b4b4" stroke-width="1.0" />
<line x1="240.55" y1="621.66" x2="254.15" y2="621.66" stroke="#b4b4b4" stroke-width="1.1" />
<line x1="240.55" y1="645.27" x2="254.15" y2="645.27" stroke="#b4b4b4" stroke-width="1.1" />
<line x1="247.35" y1="654.60" x2="247.35" y2="657.10" stroke="#666" stroke-width="0.8" />
<rect x="275.50" y="622.76" width="25.40" height="31.84" fill="#3dbf35"/>
<line x1="288.20" y1="601.62" x2="288.20" y2="641.15" stroke="#b4b4b4" stroke-width="1.0" />
<line x1="281.40" y1="601.62" x2="295.00" y2="601.62" stroke="#b4b4b4" stroke-width="1.1" />
<line x1="281.40" y1="641.15" x2="295.00" y2="641.15" stroke="#b4b4b4" stroke-width="1.1" />
<line x1="288.20" y1="654.60" x2="288.20" y2="657.10" stroke="#666" stroke-width="0.8" />
<rect x="316.70" y="619.74" width="25.40" height="34.86" fill="#435bac"/>
<line x1="329.40" y1="615.35" x2="329.40" y2="622.48" stroke="#b4b4b4" stroke-width="1.0" />
<line x1="322.60" y1="615.35" x2="336.20" y2="615.35" stroke="#b4b4b4" stroke-width="1.1" />
<line x1="322.60" y1="622.48" x2="336.20" y2="622.48" stroke="#b4b4b4" stroke-width="1.1" />
<line x1="329.40" y1="654.60" x2="329.40" y2="657.10" stroke="#666" stroke-width="0.8" />
<line x1="246.20" y1="565.00" x2="329.40" y2="565.00" stroke="#999" stroke-width="1.6" />
<text x="282.80" y="562.30" font-family="'Liberation Sans', sans-serif" font-size="7.2" font-weight="normal" fill="#333" text-anchor="start" textLength="10.6" lengthAdjust="spacingAndGlyphs" stroke="#333" stroke-width="0.15" >N.S.</text>
<line x1="288.20" y1="576.40" x2="329.40" y2="576.40" stroke="#999" stroke-width="1.6" />
<text x="304.00" y="573.70" font-family="'Liberation Sans', sans-serif" font-size="7.2" font-weight="normal" fill="#333" text-anchor="start" textLength="10.6" lengthAdjust="spacingAndGlyphs" stroke="#333" stroke-width="0.15" >N.S.</text>
<text x="0.00" y="0.00" font-family="'Liberation Serif', serif" font-size="10.4" font-weight="bold" fill="#111" text-anchor="start" textLength="50.9" lengthAdjust="spacingAndGlyphs" stroke="#111" stroke-width="0.2" transform="translate(202.2,620.9) rotate(-90)">AST (U/L)</text>
<line x1="401.50" y1="544.80" x2="401.50" y2="655.10" stroke="#707070" stroke-width="1.3" />
<line x1="400.70" y1="654.60" x2="540.70" y2="654.60" stroke="#222" stroke-width="1.2" />
<line x1="399.40" y1="654.60" x2="401.20" y2="654.60" stroke="#333" stroke-width="1.0" />
<text x="398.90" y="657.50" font-family="'Liberation Sans', sans-serif" font-size="8.6" font-weight="normal" fill="#222" text-anchor="end" textLength="3.1" lengthAdjust="spacingAndGlyphs" stroke="#222" stroke-width="0.25" >0</text>
<line x1="399.40" y1="632.64" x2="401.20" y2="632.64" stroke="#333" stroke-width="1.0" />
<text x="398.90" y="635.54" font-family="'Liberation Sans', sans-serif" font-size="8.6" font-weight="normal" fill="#222" text-anchor="end" textLength="9.3" lengthAdjust="spacingAndGlyphs" stroke="#222" stroke-width="0.25" >200</text>
<line x1="399.40" y1="610.68" x2="401.20" y2="610.68" stroke="#333" stroke-width="1.0" />
<text x="398.90" y="613.58" font-family="'Liberation Sans', sans-serif" font-size="8.6" font-weight="normal" fill="#222" text-anchor="end" textLength="9.3" lengthAdjust="spacingAndGlyphs" stroke="#222" stroke-width="0.25" >400</text>
<line x1="399.40" y1="588.72" x2="401.20" y2="588.72" stroke="#333" stroke-width="1.0" />
<text x="398.90" y="591.62" font-family="'Liberation Sans', sans-serif" font-size="8.6" font-weight="normal" fill="#222" text-anchor="end" textLength="9.3" lengthAdjust="spacingAndGlyphs" stroke="#222" stroke-width="0.25" >600</text>
<line x1="399.40" y1="566.76" x2="401.20" y2="566.76" stroke="#333" stroke-width="1.0" />
<text x="398.90" y="569.66" font-family="'Liberation Sans', sans-serif" font-size="8.6" font-weight="normal" fill="#222" text-anchor="end" textLength="9.3" lengthAdjust="spacingAndGlyphs" stroke="#222" stroke-width="0.25" >800</text>
<line x1="399.40" y1="544.80" x2="401.20" y2="544.80" stroke="#333" stroke-width="1.0" />
<text x="398.90" y="547.70" font-family="'Liberation Sans', sans-serif" font-size="8.6" font-weight="normal" fill="#222" text-anchor="end" textLength="12.4" lengthAdjust="spacingAndGlyphs" stroke="#222" stroke-width="0.25" >1000</text>
<rect x="416.00" y="596.63" width="26.00" height="57.97" fill="#000"/>
<line x1="429.00" y1="594.21" x2="429.00" y2="597.50" stroke="#b4b4b4" stroke-width="1.0" />
<line x1="422.20" y1="594.21" x2="435.80" y2="594.21" stroke="#b4b4b4" stroke-width="1.1" />
<line x1="422.20" y1="597.50" x2="435.80" y2="597.50" stroke="#b4b4b4" stroke-width="1.1" />
<line x1="429.00" y1="654.60" x2="429.00" y2="657.10" stroke="#666" stroke-width="0.8" />
<rect x="457.30" y="599.92" width="25.90" height="54.68" fill="#3dbf35"/>
<line x1="470.25" y1="582.68" x2="470.25" y2="614.30" stroke="#b4b4b4" stroke-width="1.0" />
<line x1="463.45" y1="582.68" x2="477.05" y2="582.68" stroke="#b4b4b4" stroke-width="1.1" />
<line x1="463.45" y1="614.30" x2="477.05" y2="614.30" stroke="#b4b4b4" stroke-width="1.1" />
<line x1="470.25" y1="654.60" x2="470.25" y2="657.10" stroke="#666" stroke-width="0.8" />
<rect x="498.00" y="592.34" width="25.90" height="62.26" fill="#435bac"/>
<line x1="510.95" y1="587.62" x2="510.95" y2="594.21" stroke="#b4b4b4" stroke-width="1.0" />
<line x1="504.15" y1="587.62" x2="517.75" y2="587.62" stroke="#b4b4b4" stroke-width="1.1" />
<line x1="504.15" y1="594.21" x2="517.75" y2="594.21" stroke="#b4b4b4" stroke-width="1.1" />
<line x1="510.95" y1="654.60" x2="510.95" y2="657.10" stroke="#666" stroke-width="0.8" />
<line x1="429.30" y1="565.00" x2="512.00" y2="565.00" stroke="#999" stroke-width="1.6" />
<text x="465.60" y="562.30" font-family="'Liberation Sans', sans-serif" font-size="7.2" font-weight="normal" fill="#333" text-anchor="start" textLength="10.6" lengthAdjust="spacingAndGlyphs" stroke="#333" stroke-width="0.15" >N.S.</text>
<line x1="471.20" y1="576.40" x2="512.00" y2="576.40" stroke="#999" stroke-width="1.6" />
<text x="486.50" y="573.70" font-family="'Liberation Sans', sans-serif" font-size="7.2" font-weight="normal" fill="#333" text-anchor="start" textLength="10.6" lengthAdjust="spacingAndGlyphs" stroke="#333" stroke-width="0.15" >N.S.</text>
<text x="0.00" y="0.00" font-family="'Liberation Serif', serif" font-size="11.1" font-weight="bold" fill="#111" text-anchor="start" textLength="75.3" lengthAdjust="spacingAndGlyphs" stroke="#111" stroke-width="0.2" transform="translate(385.3,633.3) rotate(-90)">Amylase (U/L)</text>
<rect x="124.80" y="666.70" width="10.50" height="5.60" fill="#000"/>
<text x="140.30" y="672.90" font-family="'Liberation Serif', serif" font-size="10.2" font-weight="normal" fill="#111" text-anchor="start" textLength="33.7" lengthAdjust="spacingAndGlyphs" stroke="#111" stroke-width="0.25" >Control</text>
<rect x="187.90" y="666.90" width="11.00" height="5.60" fill="#3dbf35"/>
<text x="202.10" y="672.90" font-family="'Liberation Serif', serif" font-size="10.2" font-weight="normal" fill="#111" text-anchor="start" textLength="73.9" lengthAdjust="spacingAndGlyphs" stroke="#111" stroke-width="0.25" >GFP mRNA-LNP</text>
<rect x="288.00" y="667.10" width="10.80" height="5.70" fill="#435bac"/>
<text x="303.40" y="672.90" font-family="'Liberation Serif', serif" font-size="10.2" font-weight="normal" fill="#111" text-anchor="start" textLength="114.5" lengthAdjust="spacingAndGlyphs" stroke="#111" stroke-width="0.25" >HER2-CD3-Fc mRNA-LNP</text>
</svg>
</body></html>
